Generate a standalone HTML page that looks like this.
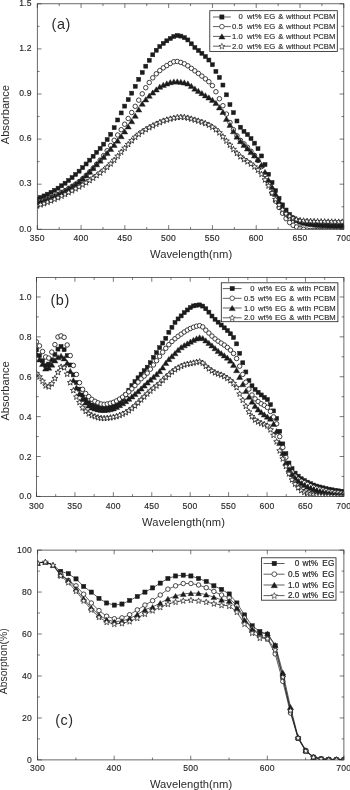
<!DOCTYPE html>
<html lang="en"><head><meta charset="utf-8"><title>UV-vis absorption spectra</title>
<style>html,body{margin:0;padding:0;background:#fff}body{width:350px;height:790px;overflow:hidden}svg{display:block;font-family:'Liberation Sans', Arial, sans-serif;filter:grayscale(1)}</style></head><body>
<svg width="350" height="790" viewBox="0 0 350 790">
<rect width="350" height="790" fill="#fff"/>
<clipPath id="clip1"><rect x="37.3" y="3.8" width="306.5" height="225.5"/></clipPath>
<g clip-path="url(#clip1)"><rect x="35" y="196.89" width="4" height="4" fill="#1c1c1c" stroke="#1c1c1c" stroke-width="0.5"/><rect x="38.51" y="195.5" width="4" height="4" fill="#1c1c1c" stroke="#1c1c1c" stroke-width="0.5"/><rect x="42.02" y="193.93" width="4" height="4" fill="#1c1c1c" stroke="#1c1c1c" stroke-width="0.5"/><rect x="45.52" y="192.2" width="4" height="4" fill="#1c1c1c" stroke="#1c1c1c" stroke-width="0.5"/><rect x="49.03" y="190.32" width="4" height="4" fill="#1c1c1c" stroke="#1c1c1c" stroke-width="0.5"/><rect x="52.54" y="188.32" width="4" height="4" fill="#1c1c1c" stroke="#1c1c1c" stroke-width="0.5"/><rect x="56.05" y="186.16" width="4" height="4" fill="#1c1c1c" stroke="#1c1c1c" stroke-width="0.5"/><rect x="59.56" y="183.77" width="4" height="4" fill="#1c1c1c" stroke="#1c1c1c" stroke-width="0.5"/><rect x="63.06" y="181.19" width="4" height="4" fill="#1c1c1c" stroke="#1c1c1c" stroke-width="0.5"/><rect x="66.57" y="178.44" width="4" height="4" fill="#1c1c1c" stroke="#1c1c1c" stroke-width="0.5"/><rect x="70.08" y="175.55" width="4" height="4" fill="#1c1c1c" stroke="#1c1c1c" stroke-width="0.5"/><rect x="73.59" y="172.47" width="4" height="4" fill="#1c1c1c" stroke="#1c1c1c" stroke-width="0.5"/><rect x="77.1" y="169.16" width="4" height="4" fill="#1c1c1c" stroke="#1c1c1c" stroke-width="0.5"/><rect x="80.6" y="165.65" width="4" height="4" fill="#1c1c1c" stroke="#1c1c1c" stroke-width="0.5"/><rect x="84.11" y="161.98" width="4" height="4" fill="#1c1c1c" stroke="#1c1c1c" stroke-width="0.5"/><rect x="87.62" y="158.17" width="4" height="4" fill="#1c1c1c" stroke="#1c1c1c" stroke-width="0.5"/><rect x="91.13" y="154.25" width="4" height="4" fill="#1c1c1c" stroke="#1c1c1c" stroke-width="0.5"/><rect x="94.64" y="150.31" width="4" height="4" fill="#1c1c1c" stroke="#1c1c1c" stroke-width="0.5"/><rect x="98.14" y="146.35" width="4" height="4" fill="#1c1c1c" stroke="#1c1c1c" stroke-width="0.5"/><rect x="101.65" y="142.16" width="4" height="4" fill="#1c1c1c" stroke="#1c1c1c" stroke-width="0.5"/><rect x="105.16" y="137.55" width="4" height="4" fill="#1c1c1c" stroke="#1c1c1c" stroke-width="0.5"/><rect x="108.67" y="132.33" width="4" height="4" fill="#1c1c1c" stroke="#1c1c1c" stroke-width="0.5"/><rect x="112.18" y="125.72" width="4" height="4" fill="#1c1c1c" stroke="#1c1c1c" stroke-width="0.5"/><rect x="115.68" y="117.98" width="4" height="4" fill="#1c1c1c" stroke="#1c1c1c" stroke-width="0.5"/><rect x="119.19" y="110.93" width="4" height="4" fill="#1c1c1c" stroke="#1c1c1c" stroke-width="0.5"/><rect x="122.7" y="104.12" width="4" height="4" fill="#1c1c1c" stroke="#1c1c1c" stroke-width="0.5"/><rect x="126.21" y="97.64" width="4" height="4" fill="#1c1c1c" stroke="#1c1c1c" stroke-width="0.5"/><rect x="129.72" y="91.17" width="4" height="4" fill="#1c1c1c" stroke="#1c1c1c" stroke-width="0.5"/><rect x="133.22" y="84.32" width="4" height="4" fill="#1c1c1c" stroke="#1c1c1c" stroke-width="0.5"/><rect x="136.73" y="77.31" width="4" height="4" fill="#1c1c1c" stroke="#1c1c1c" stroke-width="0.5"/><rect x="140.24" y="70.47" width="4" height="4" fill="#1c1c1c" stroke="#1c1c1c" stroke-width="0.5"/><rect x="143.75" y="64.18" width="4" height="4" fill="#1c1c1c" stroke="#1c1c1c" stroke-width="0.5"/><rect x="147.26" y="58.27" width="4" height="4" fill="#1c1c1c" stroke="#1c1c1c" stroke-width="0.5"/><rect x="150.76" y="52.78" width="4" height="4" fill="#1c1c1c" stroke="#1c1c1c" stroke-width="0.5"/><rect x="154.27" y="48.25" width="4" height="4" fill="#1c1c1c" stroke="#1c1c1c" stroke-width="0.5"/><rect x="157.78" y="44.54" width="4" height="4" fill="#1c1c1c" stroke="#1c1c1c" stroke-width="0.5"/><rect x="161.29" y="41.37" width="4" height="4" fill="#1c1c1c" stroke="#1c1c1c" stroke-width="0.5"/><rect x="164.8" y="38.79" width="4" height="4" fill="#1c1c1c" stroke="#1c1c1c" stroke-width="0.5"/><rect x="168.3" y="36.51" width="4" height="4" fill="#1c1c1c" stroke="#1c1c1c" stroke-width="0.5"/><rect x="171.81" y="34.49" width="4" height="4" fill="#1c1c1c" stroke="#1c1c1c" stroke-width="0.5"/><rect x="175.32" y="33.52" width="4" height="4" fill="#1c1c1c" stroke="#1c1c1c" stroke-width="0.5"/><rect x="178.83" y="34.09" width="4" height="4" fill="#1c1c1c" stroke="#1c1c1c" stroke-width="0.5"/><rect x="182.34" y="35.64" width="4" height="4" fill="#1c1c1c" stroke="#1c1c1c" stroke-width="0.5"/><rect x="185.84" y="37.94" width="4" height="4" fill="#1c1c1c" stroke="#1c1c1c" stroke-width="0.5"/><rect x="189.35" y="41.81" width="4" height="4" fill="#1c1c1c" stroke="#1c1c1c" stroke-width="0.5"/><rect x="192.86" y="45.5" width="4" height="4" fill="#1c1c1c" stroke="#1c1c1c" stroke-width="0.5"/><rect x="196.37" y="48.44" width="4" height="4" fill="#1c1c1c" stroke="#1c1c1c" stroke-width="0.5"/><rect x="199.88" y="51.3" width="4" height="4" fill="#1c1c1c" stroke="#1c1c1c" stroke-width="0.5"/><rect x="203.38" y="54.51" width="4" height="4" fill="#1c1c1c" stroke="#1c1c1c" stroke-width="0.5"/><rect x="206.89" y="58.02" width="4" height="4" fill="#1c1c1c" stroke="#1c1c1c" stroke-width="0.5"/><rect x="210.4" y="62.7" width="4" height="4" fill="#1c1c1c" stroke="#1c1c1c" stroke-width="0.5"/><rect x="213.91" y="69.45" width="4" height="4" fill="#1c1c1c" stroke="#1c1c1c" stroke-width="0.5"/><rect x="217.42" y="75.47" width="4" height="4" fill="#1c1c1c" stroke="#1c1c1c" stroke-width="0.5"/><rect x="220.92" y="83.05" width="4" height="4" fill="#1c1c1c" stroke="#1c1c1c" stroke-width="0.5"/><rect x="224.43" y="92.81" width="4" height="4" fill="#1c1c1c" stroke="#1c1c1c" stroke-width="0.5"/><rect x="227.94" y="102.6" width="4" height="4" fill="#1c1c1c" stroke="#1c1c1c" stroke-width="0.5"/><rect x="231.45" y="110.68" width="4" height="4" fill="#1c1c1c" stroke="#1c1c1c" stroke-width="0.5"/><rect x="234.96" y="118.99" width="4" height="4" fill="#1c1c1c" stroke="#1c1c1c" stroke-width="0.5"/><rect x="238.46" y="125.21" width="4" height="4" fill="#1c1c1c" stroke="#1c1c1c" stroke-width="0.5"/><rect x="241.97" y="129.32" width="4" height="4" fill="#1c1c1c" stroke="#1c1c1c" stroke-width="0.5"/><rect x="245.48" y="132.55" width="4" height="4" fill="#1c1c1c" stroke="#1c1c1c" stroke-width="0.5"/><rect x="248.99" y="136.56" width="4" height="4" fill="#1c1c1c" stroke="#1c1c1c" stroke-width="0.5"/><rect x="252.5" y="141.17" width="4" height="4" fill="#1c1c1c" stroke="#1c1c1c" stroke-width="0.5"/><rect x="256" y="146.71" width="4" height="4" fill="#1c1c1c" stroke="#1c1c1c" stroke-width="0.5"/><rect x="259.51" y="153.95" width="4" height="4" fill="#1c1c1c" stroke="#1c1c1c" stroke-width="0.5"/><rect x="263.02" y="162.55" width="4" height="4" fill="#1c1c1c" stroke="#1c1c1c" stroke-width="0.5"/><rect x="266.53" y="172.24" width="4" height="4" fill="#1c1c1c" stroke="#1c1c1c" stroke-width="0.5"/><rect x="270.04" y="180.49" width="4" height="4" fill="#1c1c1c" stroke="#1c1c1c" stroke-width="0.5"/><rect x="273.54" y="188.69" width="4" height="4" fill="#1c1c1c" stroke="#1c1c1c" stroke-width="0.5"/><rect x="277.05" y="196.37" width="4" height="4" fill="#1c1c1c" stroke="#1c1c1c" stroke-width="0.5"/><rect x="280.56" y="202.85" width="4" height="4" fill="#1c1c1c" stroke="#1c1c1c" stroke-width="0.5"/><rect x="284.07" y="208" width="4" height="4" fill="#1c1c1c" stroke="#1c1c1c" stroke-width="0.5"/><rect x="287.58" y="212.42" width="4" height="4" fill="#1c1c1c" stroke="#1c1c1c" stroke-width="0.5"/><rect x="291.08" y="215.98" width="4" height="4" fill="#1c1c1c" stroke="#1c1c1c" stroke-width="0.5"/><rect x="294.59" y="218.45" width="4" height="4" fill="#1c1c1c" stroke="#1c1c1c" stroke-width="0.5"/><rect x="298.1" y="220.19" width="4" height="4" fill="#1c1c1c" stroke="#1c1c1c" stroke-width="0.5"/><rect x="301.61" y="221.33" width="4" height="4" fill="#1c1c1c" stroke="#1c1c1c" stroke-width="0.5"/><rect x="305.12" y="222.16" width="4" height="4" fill="#1c1c1c" stroke="#1c1c1c" stroke-width="0.5"/><rect x="308.62" y="222.67" width="4" height="4" fill="#1c1c1c" stroke="#1c1c1c" stroke-width="0.5"/><rect x="312.13" y="223.06" width="4" height="4" fill="#1c1c1c" stroke="#1c1c1c" stroke-width="0.5"/><rect x="315.64" y="223.38" width="4" height="4" fill="#1c1c1c" stroke="#1c1c1c" stroke-width="0.5"/><rect x="319.15" y="223.64" width="4" height="4" fill="#1c1c1c" stroke="#1c1c1c" stroke-width="0.5"/><rect x="322.66" y="223.85" width="4" height="4" fill="#1c1c1c" stroke="#1c1c1c" stroke-width="0.5"/><rect x="326.16" y="224.03" width="4" height="4" fill="#1c1c1c" stroke="#1c1c1c" stroke-width="0.5"/><rect x="329.67" y="224.19" width="4" height="4" fill="#1c1c1c" stroke="#1c1c1c" stroke-width="0.5"/><rect x="333.18" y="224.33" width="4" height="4" fill="#1c1c1c" stroke="#1c1c1c" stroke-width="0.5"/><rect x="336.69" y="224.45" width="4" height="4" fill="#1c1c1c" stroke="#1c1c1c" stroke-width="0.5"/><rect x="340.2" y="224.52" width="4" height="4" fill="#1c1c1c" stroke="#1c1c1c" stroke-width="0.5"/></g>
<g clip-path="url(#clip1)"><circle cx="37" cy="201.75" r="2.25" fill="#fff" stroke="#1c1c1c" stroke-width="0.85"/><circle cx="40.51" cy="201.11" r="2.25" fill="#fff" stroke="#1c1c1c" stroke-width="0.85"/><circle cx="44.02" cy="200.21" r="2.25" fill="#fff" stroke="#1c1c1c" stroke-width="0.85"/><circle cx="47.52" cy="199.07" r="2.25" fill="#fff" stroke="#1c1c1c" stroke-width="0.85"/><circle cx="51.03" cy="197.72" r="2.25" fill="#fff" stroke="#1c1c1c" stroke-width="0.85"/><circle cx="54.54" cy="196.17" r="2.25" fill="#fff" stroke="#1c1c1c" stroke-width="0.85"/><circle cx="58.05" cy="194.46" r="2.25" fill="#fff" stroke="#1c1c1c" stroke-width="0.85"/><circle cx="61.56" cy="192.6" r="2.25" fill="#fff" stroke="#1c1c1c" stroke-width="0.85"/><circle cx="65.06" cy="190.63" r="2.25" fill="#fff" stroke="#1c1c1c" stroke-width="0.85"/><circle cx="68.57" cy="188.55" r="2.25" fill="#fff" stroke="#1c1c1c" stroke-width="0.85"/><circle cx="72.08" cy="186.41" r="2.25" fill="#fff" stroke="#1c1c1c" stroke-width="0.85"/><circle cx="75.59" cy="184.2" r="2.25" fill="#fff" stroke="#1c1c1c" stroke-width="0.85"/><circle cx="79.1" cy="181.66" r="2.25" fill="#fff" stroke="#1c1c1c" stroke-width="0.85"/><circle cx="82.6" cy="178.72" r="2.25" fill="#fff" stroke="#1c1c1c" stroke-width="0.85"/><circle cx="86.11" cy="175.45" r="2.25" fill="#fff" stroke="#1c1c1c" stroke-width="0.85"/><circle cx="89.62" cy="171.9" r="2.25" fill="#fff" stroke="#1c1c1c" stroke-width="0.85"/><circle cx="93.13" cy="168.13" r="2.25" fill="#fff" stroke="#1c1c1c" stroke-width="0.85"/><circle cx="96.64" cy="164.22" r="2.25" fill="#fff" stroke="#1c1c1c" stroke-width="0.85"/><circle cx="100.14" cy="160.14" r="2.25" fill="#fff" stroke="#1c1c1c" stroke-width="0.85"/><circle cx="103.65" cy="155.62" r="2.25" fill="#fff" stroke="#1c1c1c" stroke-width="0.85"/><circle cx="107.16" cy="150.72" r="2.25" fill="#fff" stroke="#1c1c1c" stroke-width="0.85"/><circle cx="110.67" cy="145.57" r="2.25" fill="#fff" stroke="#1c1c1c" stroke-width="0.85"/><circle cx="114.18" cy="140.29" r="2.25" fill="#fff" stroke="#1c1c1c" stroke-width="0.85"/><circle cx="117.68" cy="135.01" r="2.25" fill="#fff" stroke="#1c1c1c" stroke-width="0.85"/><circle cx="121.19" cy="129.7" r="2.25" fill="#fff" stroke="#1c1c1c" stroke-width="0.85"/><circle cx="124.7" cy="124.21" r="2.25" fill="#fff" stroke="#1c1c1c" stroke-width="0.85"/><circle cx="128.21" cy="118.51" r="2.25" fill="#fff" stroke="#1c1c1c" stroke-width="0.85"/><circle cx="131.72" cy="112.5" r="2.25" fill="#fff" stroke="#1c1c1c" stroke-width="0.85"/><circle cx="135.22" cy="106.31" r="2.25" fill="#fff" stroke="#1c1c1c" stroke-width="0.85"/><circle cx="138.73" cy="100.14" r="2.25" fill="#fff" stroke="#1c1c1c" stroke-width="0.85"/><circle cx="142.24" cy="93.82" r="2.25" fill="#fff" stroke="#1c1c1c" stroke-width="0.85"/><circle cx="145.75" cy="87.73" r="2.25" fill="#fff" stroke="#1c1c1c" stroke-width="0.85"/><circle cx="149.26" cy="82.53" r="2.25" fill="#fff" stroke="#1c1c1c" stroke-width="0.85"/><circle cx="152.76" cy="77.82" r="2.25" fill="#fff" stroke="#1c1c1c" stroke-width="0.85"/><circle cx="156.27" cy="73.8" r="2.25" fill="#fff" stroke="#1c1c1c" stroke-width="0.85"/><circle cx="159.78" cy="70.58" r="2.25" fill="#fff" stroke="#1c1c1c" stroke-width="0.85"/><circle cx="163.29" cy="67.84" r="2.25" fill="#fff" stroke="#1c1c1c" stroke-width="0.85"/><circle cx="166.8" cy="65.57" r="2.25" fill="#fff" stroke="#1c1c1c" stroke-width="0.85"/><circle cx="170.3" cy="63.47" r="2.25" fill="#fff" stroke="#1c1c1c" stroke-width="0.85"/><circle cx="173.81" cy="61.75" r="2.25" fill="#fff" stroke="#1c1c1c" stroke-width="0.85"/><circle cx="177.32" cy="61.46" r="2.25" fill="#fff" stroke="#1c1c1c" stroke-width="0.85"/><circle cx="180.83" cy="62.41" r="2.25" fill="#fff" stroke="#1c1c1c" stroke-width="0.85"/><circle cx="184.34" cy="63.8" r="2.25" fill="#fff" stroke="#1c1c1c" stroke-width="0.85"/><circle cx="187.84" cy="65.8" r="2.25" fill="#fff" stroke="#1c1c1c" stroke-width="0.85"/><circle cx="191.35" cy="68.34" r="2.25" fill="#fff" stroke="#1c1c1c" stroke-width="0.85"/><circle cx="194.86" cy="70.86" r="2.25" fill="#fff" stroke="#1c1c1c" stroke-width="0.85"/><circle cx="198.37" cy="73.41" r="2.25" fill="#fff" stroke="#1c1c1c" stroke-width="0.85"/><circle cx="201.88" cy="76.1" r="2.25" fill="#fff" stroke="#1c1c1c" stroke-width="0.85"/><circle cx="205.38" cy="78.86" r="2.25" fill="#fff" stroke="#1c1c1c" stroke-width="0.85"/><circle cx="208.89" cy="81.73" r="2.25" fill="#fff" stroke="#1c1c1c" stroke-width="0.85"/><circle cx="212.4" cy="85.65" r="2.25" fill="#fff" stroke="#1c1c1c" stroke-width="0.85"/><circle cx="215.91" cy="91.75" r="2.25" fill="#fff" stroke="#1c1c1c" stroke-width="0.85"/><circle cx="219.42" cy="98.76" r="2.25" fill="#fff" stroke="#1c1c1c" stroke-width="0.85"/><circle cx="222.92" cy="105.7" r="2.25" fill="#fff" stroke="#1c1c1c" stroke-width="0.85"/><circle cx="226.43" cy="114.09" r="2.25" fill="#fff" stroke="#1c1c1c" stroke-width="0.85"/><circle cx="229.94" cy="122.48" r="2.25" fill="#fff" stroke="#1c1c1c" stroke-width="0.85"/><circle cx="233.45" cy="129.71" r="2.25" fill="#fff" stroke="#1c1c1c" stroke-width="0.85"/><circle cx="236.96" cy="135.81" r="2.25" fill="#fff" stroke="#1c1c1c" stroke-width="0.85"/><circle cx="240.46" cy="140.4" r="2.25" fill="#fff" stroke="#1c1c1c" stroke-width="0.85"/><circle cx="243.97" cy="143.86" r="2.25" fill="#fff" stroke="#1c1c1c" stroke-width="0.85"/><circle cx="247.48" cy="147.34" r="2.25" fill="#fff" stroke="#1c1c1c" stroke-width="0.85"/><circle cx="250.99" cy="151.24" r="2.25" fill="#fff" stroke="#1c1c1c" stroke-width="0.85"/><circle cx="254.5" cy="155.47" r="2.25" fill="#fff" stroke="#1c1c1c" stroke-width="0.85"/><circle cx="258" cy="160.5" r="2.25" fill="#fff" stroke="#1c1c1c" stroke-width="0.85"/><circle cx="261.51" cy="166.65" r="2.25" fill="#fff" stroke="#1c1c1c" stroke-width="0.85"/><circle cx="265.02" cy="174.47" r="2.25" fill="#fff" stroke="#1c1c1c" stroke-width="0.85"/><circle cx="268.53" cy="183.51" r="2.25" fill="#fff" stroke="#1c1c1c" stroke-width="0.85"/><circle cx="272.04" cy="193.12" r="2.25" fill="#fff" stroke="#1c1c1c" stroke-width="0.85"/><circle cx="275.54" cy="201.1" r="2.25" fill="#fff" stroke="#1c1c1c" stroke-width="0.85"/><circle cx="279.05" cy="207.45" r="2.25" fill="#fff" stroke="#1c1c1c" stroke-width="0.85"/><circle cx="282.56" cy="213.24" r="2.25" fill="#fff" stroke="#1c1c1c" stroke-width="0.85"/><circle cx="286.07" cy="218.64" r="2.25" fill="#fff" stroke="#1c1c1c" stroke-width="0.85"/><circle cx="289.58" cy="222.5" r="2.25" fill="#fff" stroke="#1c1c1c" stroke-width="0.85"/><circle cx="293.08" cy="225.29" r="2.25" fill="#fff" stroke="#1c1c1c" stroke-width="0.85"/><circle cx="296.59" cy="227" r="2.25" fill="#fff" stroke="#1c1c1c" stroke-width="0.85"/><circle cx="300.1" cy="228.24" r="2.25" fill="#fff" stroke="#1c1c1c" stroke-width="0.85"/><circle cx="303.61" cy="229.3" r="2.25" fill="#fff" stroke="#1c1c1c" stroke-width="0.85"/><circle cx="307.12" cy="230.14" r="2.25" fill="#fff" stroke="#1c1c1c" stroke-width="0.85"/><circle cx="310.62" cy="230.34" r="2.25" fill="#fff" stroke="#1c1c1c" stroke-width="0.85"/><circle cx="314.13" cy="230.4" r="2.25" fill="#fff" stroke="#1c1c1c" stroke-width="0.85"/><circle cx="317.64" cy="230.45" r="2.25" fill="#fff" stroke="#1c1c1c" stroke-width="0.85"/><circle cx="321.15" cy="230.49" r="2.25" fill="#fff" stroke="#1c1c1c" stroke-width="0.85"/><circle cx="324.66" cy="230.53" r="2.25" fill="#fff" stroke="#1c1c1c" stroke-width="0.85"/><circle cx="328.16" cy="230.56" r="2.25" fill="#fff" stroke="#1c1c1c" stroke-width="0.85"/><circle cx="331.67" cy="230.58" r="2.25" fill="#fff" stroke="#1c1c1c" stroke-width="0.85"/><circle cx="335.18" cy="230.59" r="2.25" fill="#fff" stroke="#1c1c1c" stroke-width="0.85"/><circle cx="338.69" cy="230.6" r="2.25" fill="#fff" stroke="#1c1c1c" stroke-width="0.85"/><circle cx="342.2" cy="230.6" r="2.25" fill="#fff" stroke="#1c1c1c" stroke-width="0.85"/></g>
<g clip-path="url(#clip1)"><polygon points="37,199.43 33.92,204.67 40.08,204.67" fill="#1c1c1c" stroke="#1c1c1c" stroke-width="0.4"/><polygon points="40.51,198.69 37.43,203.93 43.59,203.93" fill="#1c1c1c" stroke="#1c1c1c" stroke-width="0.4"/><polygon points="44.02,197.71 40.94,202.95 47.09,202.95" fill="#1c1c1c" stroke="#1c1c1c" stroke-width="0.4"/><polygon points="47.52,196.5 44.45,201.75 50.6,201.75" fill="#1c1c1c" stroke="#1c1c1c" stroke-width="0.4"/><polygon points="51.03,195.1 47.95,200.35 54.11,200.35" fill="#1c1c1c" stroke="#1c1c1c" stroke-width="0.4"/><polygon points="54.54,193.52 51.46,198.76 57.62,198.76" fill="#1c1c1c" stroke="#1c1c1c" stroke-width="0.4"/><polygon points="58.05,191.78 54.97,197.02 61.13,197.02" fill="#1c1c1c" stroke="#1c1c1c" stroke-width="0.4"/><polygon points="61.56,189.9 58.48,195.14 64.63,195.14" fill="#1c1c1c" stroke="#1c1c1c" stroke-width="0.4"/><polygon points="65.06,187.9 61.99,193.15 68.14,193.15" fill="#1c1c1c" stroke="#1c1c1c" stroke-width="0.4"/><polygon points="68.57,185.81 65.49,191.06 71.65,191.06" fill="#1c1c1c" stroke="#1c1c1c" stroke-width="0.4"/><polygon points="72.08,183.65 69,188.89 75.16,188.89" fill="#1c1c1c" stroke="#1c1c1c" stroke-width="0.4"/><polygon points="75.59,181.42 72.51,186.66 78.67,186.66" fill="#1c1c1c" stroke="#1c1c1c" stroke-width="0.4"/><polygon points="79.1,178.84 76.02,184.08 82.17,184.08" fill="#1c1c1c" stroke="#1c1c1c" stroke-width="0.4"/><polygon points="82.6,175.85 79.53,181.1 85.68,181.1" fill="#1c1c1c" stroke="#1c1c1c" stroke-width="0.4"/><polygon points="86.11,172.55 83.03,177.8 89.19,177.8" fill="#1c1c1c" stroke="#1c1c1c" stroke-width="0.4"/><polygon points="89.62,169.02 86.54,174.27 92.7,174.27" fill="#1c1c1c" stroke="#1c1c1c" stroke-width="0.4"/><polygon points="93.13,165.34 90.05,170.59 96.21,170.59" fill="#1c1c1c" stroke="#1c1c1c" stroke-width="0.4"/><polygon points="96.64,161.61 93.56,166.85 99.71,166.85" fill="#1c1c1c" stroke="#1c1c1c" stroke-width="0.4"/><polygon points="100.14,157.89 97.07,163.14 103.22,163.14" fill="#1c1c1c" stroke="#1c1c1c" stroke-width="0.4"/><polygon points="103.65,154.18 100.57,159.42 106.73,159.42" fill="#1c1c1c" stroke="#1c1c1c" stroke-width="0.4"/><polygon points="107.16,150.32 104.08,155.57 110.24,155.57" fill="#1c1c1c" stroke="#1c1c1c" stroke-width="0.4"/><polygon points="110.67,146.33 107.59,151.57 113.75,151.57" fill="#1c1c1c" stroke="#1c1c1c" stroke-width="0.4"/><polygon points="114.18,142.2 111.1,147.45 117.25,147.45" fill="#1c1c1c" stroke="#1c1c1c" stroke-width="0.4"/><polygon points="117.68,137.95 114.61,143.2 120.76,143.2" fill="#1c1c1c" stroke="#1c1c1c" stroke-width="0.4"/><polygon points="121.19,133.5 118.11,138.75 124.27,138.75" fill="#1c1c1c" stroke="#1c1c1c" stroke-width="0.4"/><polygon points="124.7,128.78 121.62,134.03 127.78,134.03" fill="#1c1c1c" stroke="#1c1c1c" stroke-width="0.4"/><polygon points="128.21,123.81 125.13,129.05 131.29,129.05" fill="#1c1c1c" stroke="#1c1c1c" stroke-width="0.4"/><polygon points="131.72,118.58 128.64,123.83 134.79,123.83" fill="#1c1c1c" stroke="#1c1c1c" stroke-width="0.4"/><polygon points="135.22,113.08 132.15,118.32 138.3,118.32" fill="#1c1c1c" stroke="#1c1c1c" stroke-width="0.4"/><polygon points="138.73,106.83 135.65,112.08 141.81,112.08" fill="#1c1c1c" stroke="#1c1c1c" stroke-width="0.4"/><polygon points="142.24,101.06 139.16,106.3 145.32,106.3" fill="#1c1c1c" stroke="#1c1c1c" stroke-width="0.4"/><polygon points="145.75,96.73 142.67,101.97 148.83,101.97" fill="#1c1c1c" stroke="#1c1c1c" stroke-width="0.4"/><polygon points="149.26,93.07 146.18,98.31 152.33,98.31" fill="#1c1c1c" stroke="#1c1c1c" stroke-width="0.4"/><polygon points="152.76,89.86 149.69,95.1 155.84,95.1" fill="#1c1c1c" stroke="#1c1c1c" stroke-width="0.4"/><polygon points="156.27,86.79 153.19,92.03 159.35,92.03" fill="#1c1c1c" stroke="#1c1c1c" stroke-width="0.4"/><polygon points="159.78,84.05 156.7,89.29 162.86,89.29" fill="#1c1c1c" stroke="#1c1c1c" stroke-width="0.4"/><polygon points="163.29,82.16 160.21,87.41 166.37,87.41" fill="#1c1c1c" stroke="#1c1c1c" stroke-width="0.4"/><polygon points="166.8,80.77 163.72,86.02 169.87,86.02" fill="#1c1c1c" stroke="#1c1c1c" stroke-width="0.4"/><polygon points="170.3,79.61 167.23,84.85 173.38,84.85" fill="#1c1c1c" stroke="#1c1c1c" stroke-width="0.4"/><polygon points="173.81,78.88 170.73,84.12 176.89,84.12" fill="#1c1c1c" stroke="#1c1c1c" stroke-width="0.4"/><polygon points="177.32,78.77 174.24,84.01 180.4,84.01" fill="#1c1c1c" stroke="#1c1c1c" stroke-width="0.4"/><polygon points="180.83,79.14 177.75,84.38 183.91,84.38" fill="#1c1c1c" stroke="#1c1c1c" stroke-width="0.4"/><polygon points="184.34,79.83 181.26,85.07 187.41,85.07" fill="#1c1c1c" stroke="#1c1c1c" stroke-width="0.4"/><polygon points="187.84,80.84 184.77,86.09 190.92,86.09" fill="#1c1c1c" stroke="#1c1c1c" stroke-width="0.4"/><polygon points="191.35,83.2 188.27,88.45 194.43,88.45" fill="#1c1c1c" stroke="#1c1c1c" stroke-width="0.4"/><polygon points="194.86,85.92 191.78,91.17 197.94,91.17" fill="#1c1c1c" stroke="#1c1c1c" stroke-width="0.4"/><polygon points="198.37,88.18 195.29,93.42 201.45,93.42" fill="#1c1c1c" stroke="#1c1c1c" stroke-width="0.4"/><polygon points="201.88,90.38 198.8,95.63 204.95,95.63" fill="#1c1c1c" stroke="#1c1c1c" stroke-width="0.4"/><polygon points="205.38,92.63 202.31,97.88 208.46,97.88" fill="#1c1c1c" stroke="#1c1c1c" stroke-width="0.4"/><polygon points="208.89,94.84 205.81,100.08 211.97,100.08" fill="#1c1c1c" stroke="#1c1c1c" stroke-width="0.4"/><polygon points="212.4,97.17 209.32,102.41 215.48,102.41" fill="#1c1c1c" stroke="#1c1c1c" stroke-width="0.4"/><polygon points="215.91,100.34 212.83,105.59 218.99,105.59" fill="#1c1c1c" stroke="#1c1c1c" stroke-width="0.4"/><polygon points="219.42,104.67 216.34,109.91 222.49,109.91" fill="#1c1c1c" stroke="#1c1c1c" stroke-width="0.4"/><polygon points="222.92,109.26 219.85,114.5 226,114.5" fill="#1c1c1c" stroke="#1c1c1c" stroke-width="0.4"/><polygon points="226.43,116.21 223.35,121.45 229.51,121.45" fill="#1c1c1c" stroke="#1c1c1c" stroke-width="0.4"/><polygon points="229.94,122.16 226.86,127.41 233.02,127.41" fill="#1c1c1c" stroke="#1c1c1c" stroke-width="0.4"/><polygon points="233.45,128.61 230.37,133.86 236.53,133.86" fill="#1c1c1c" stroke="#1c1c1c" stroke-width="0.4"/><polygon points="236.96,133.89 233.88,139.14 240.03,139.14" fill="#1c1c1c" stroke="#1c1c1c" stroke-width="0.4"/><polygon points="240.46,138.39 237.39,143.64 243.54,143.64" fill="#1c1c1c" stroke="#1c1c1c" stroke-width="0.4"/><polygon points="243.97,142.14 240.89,147.38 247.05,147.38" fill="#1c1c1c" stroke="#1c1c1c" stroke-width="0.4"/><polygon points="247.48,145.75 244.4,150.99 250.56,150.99" fill="#1c1c1c" stroke="#1c1c1c" stroke-width="0.4"/><polygon points="250.99,149.3 247.91,154.54 254.07,154.54" fill="#1c1c1c" stroke="#1c1c1c" stroke-width="0.4"/><polygon points="254.5,152.82 251.42,158.06 257.57,158.06" fill="#1c1c1c" stroke="#1c1c1c" stroke-width="0.4"/><polygon points="258,156.77 254.93,162.01 261.08,162.01" fill="#1c1c1c" stroke="#1c1c1c" stroke-width="0.4"/><polygon points="261.51,162.3 258.43,167.55 264.59,167.55" fill="#1c1c1c" stroke="#1c1c1c" stroke-width="0.4"/><polygon points="265.02,169.33 261.94,174.57 268.1,174.57" fill="#1c1c1c" stroke="#1c1c1c" stroke-width="0.4"/><polygon points="268.53,177.33 265.45,182.58 271.61,182.58" fill="#1c1c1c" stroke="#1c1c1c" stroke-width="0.4"/><polygon points="272.04,184.29 268.96,189.54 275.11,189.54" fill="#1c1c1c" stroke="#1c1c1c" stroke-width="0.4"/><polygon points="275.54,191.33 272.47,196.57 278.62,196.57" fill="#1c1c1c" stroke="#1c1c1c" stroke-width="0.4"/><polygon points="279.05,198.74 275.97,203.98 282.13,203.98" fill="#1c1c1c" stroke="#1c1c1c" stroke-width="0.4"/><polygon points="282.56,204.57 279.48,209.81 285.64,209.81" fill="#1c1c1c" stroke="#1c1c1c" stroke-width="0.4"/><polygon points="286.07,209.13 282.99,214.38 289.15,214.38" fill="#1c1c1c" stroke="#1c1c1c" stroke-width="0.4"/><polygon points="289.58,212.71 286.5,217.95 292.65,217.95" fill="#1c1c1c" stroke="#1c1c1c" stroke-width="0.4"/><polygon points="293.08,215.36 290.01,220.6 296.16,220.6" fill="#1c1c1c" stroke="#1c1c1c" stroke-width="0.4"/><polygon points="296.59,217.15 293.51,222.39 299.67,222.39" fill="#1c1c1c" stroke="#1c1c1c" stroke-width="0.4"/><polygon points="300.1,218.36 297.02,223.61 303.18,223.61" fill="#1c1c1c" stroke="#1c1c1c" stroke-width="0.4"/><polygon points="303.61,219.14 300.53,224.38 306.69,224.38" fill="#1c1c1c" stroke="#1c1c1c" stroke-width="0.4"/><polygon points="307.12,219.69 304.04,224.94 310.19,224.94" fill="#1c1c1c" stroke="#1c1c1c" stroke-width="0.4"/><polygon points="310.62,220 307.55,225.24 313.7,225.24" fill="#1c1c1c" stroke="#1c1c1c" stroke-width="0.4"/><polygon points="314.13,220.25 311.05,225.5 317.21,225.5" fill="#1c1c1c" stroke="#1c1c1c" stroke-width="0.4"/><polygon points="317.64,220.49 314.56,225.73 320.72,225.73" fill="#1c1c1c" stroke="#1c1c1c" stroke-width="0.4"/><polygon points="321.15,220.69 318.07,225.94 324.23,225.94" fill="#1c1c1c" stroke="#1c1c1c" stroke-width="0.4"/><polygon points="324.66,220.88 321.58,226.12 327.73,226.12" fill="#1c1c1c" stroke="#1c1c1c" stroke-width="0.4"/><polygon points="328.16,221.03 325.09,226.28 331.24,226.28" fill="#1c1c1c" stroke="#1c1c1c" stroke-width="0.4"/><polygon points="331.67,221.16 328.59,226.41 334.75,226.41" fill="#1c1c1c" stroke="#1c1c1c" stroke-width="0.4"/><polygon points="335.18,221.26 332.1,226.51 338.26,226.51" fill="#1c1c1c" stroke="#1c1c1c" stroke-width="0.4"/><polygon points="338.69,221.33 335.61,226.57 341.77,226.57" fill="#1c1c1c" stroke="#1c1c1c" stroke-width="0.4"/><polygon points="342.2,221.36 339.12,226.61 345.27,226.61" fill="#1c1c1c" stroke="#1c1c1c" stroke-width="0.4"/></g>
<g clip-path="url(#clip1)"><polygon points="37,202.8 37.77,204.85 39.95,204.95 38.24,206.31 38.82,208.41 37,207.21 35.18,208.41 35.76,206.31 34.05,204.95 36.23,204.85" fill="#fff" stroke="#1c1c1c" stroke-width="0.8" stroke-linejoin="miter"/><polygon points="40.51,201.67 41.27,203.72 43.46,203.81 41.75,205.17 42.33,207.28 40.51,206.07 38.69,207.28 39.27,205.17 37.56,203.81 39.74,203.72" fill="#fff" stroke="#1c1c1c" stroke-width="0.8" stroke-linejoin="miter"/><polygon points="44.02,200.43 44.78,202.48 46.96,202.57 45.25,203.93 45.84,206.04 44.02,204.83 42.19,206.04 42.78,203.93 41.07,202.57 43.25,202.48" fill="#fff" stroke="#1c1c1c" stroke-width="0.8" stroke-linejoin="miter"/><polygon points="47.52,199.1 48.29,201.15 50.47,201.24 48.76,202.6 49.35,204.71 47.52,203.5 45.7,204.71 46.29,202.6 44.58,201.24 46.76,201.15" fill="#fff" stroke="#1c1c1c" stroke-width="0.8" stroke-linejoin="miter"/><polygon points="51.03,197.68 51.8,199.72 53.98,199.82 52.27,201.18 52.85,203.28 51.03,202.08 49.21,203.28 49.79,201.18 48.08,199.82 50.27,199.72" fill="#fff" stroke="#1c1c1c" stroke-width="0.8" stroke-linejoin="miter"/><polygon points="54.54,196.17 55.31,198.21 57.49,198.31 55.78,199.67 56.36,201.78 54.54,200.57 52.72,201.78 53.3,199.67 51.59,198.31 53.77,198.21" fill="#fff" stroke="#1c1c1c" stroke-width="0.8" stroke-linejoin="miter"/><polygon points="58.05,194.58 58.81,196.63 61,196.73 59.29,198.09 59.87,200.19 58.05,198.99 56.23,200.19 56.81,198.09 55.1,196.73 57.28,196.63" fill="#fff" stroke="#1c1c1c" stroke-width="0.8" stroke-linejoin="miter"/><polygon points="61.56,192.93 62.32,194.97 64.5,195.07 62.79,196.43 63.38,198.53 61.56,197.33 59.73,198.53 60.32,196.43 58.61,195.07 60.79,194.97" fill="#fff" stroke="#1c1c1c" stroke-width="0.8" stroke-linejoin="miter"/><polygon points="65.06,191.21 65.83,193.25 68.01,193.35 66.3,194.71 66.89,196.81 65.06,195.61 63.24,196.81 63.83,194.71 62.12,193.35 64.3,193.25" fill="#fff" stroke="#1c1c1c" stroke-width="0.8" stroke-linejoin="miter"/><polygon points="68.57,189.42 69.34,191.47 71.52,191.57 69.81,192.93 70.39,195.03 68.57,193.83 66.75,195.03 67.33,192.93 65.62,191.57 67.81,191.47" fill="#fff" stroke="#1c1c1c" stroke-width="0.8" stroke-linejoin="miter"/><polygon points="72.08,187.59 72.85,189.64 75.03,189.73 73.32,191.09 73.9,193.2 72.08,191.99 70.26,193.2 70.84,191.09 69.13,189.73 71.31,189.64" fill="#fff" stroke="#1c1c1c" stroke-width="0.8" stroke-linejoin="miter"/><polygon points="75.59,185.71 76.35,187.76 78.54,187.85 76.83,189.21 77.41,191.32 75.59,190.11 73.77,191.32 74.35,189.21 72.64,187.85 74.82,187.76" fill="#fff" stroke="#1c1c1c" stroke-width="0.8" stroke-linejoin="miter"/><polygon points="79.1,183.79 79.86,185.83 82.04,185.93 80.33,187.29 80.92,189.39 79.1,188.19 77.27,189.39 77.86,187.29 76.15,185.93 78.33,185.83" fill="#fff" stroke="#1c1c1c" stroke-width="0.8" stroke-linejoin="miter"/><polygon points="82.6,181.76 83.37,183.81 85.55,183.9 83.84,185.26 84.43,187.37 82.6,186.16 80.78,187.37 81.37,185.26 79.66,183.9 81.84,183.81" fill="#fff" stroke="#1c1c1c" stroke-width="0.8" stroke-linejoin="miter"/><polygon points="86.11,179.62 86.88,181.66 89.06,181.76 87.35,183.12 87.93,185.22 86.11,184.02 84.29,185.22 84.87,183.12 83.16,181.76 85.35,181.66" fill="#fff" stroke="#1c1c1c" stroke-width="0.8" stroke-linejoin="miter"/><polygon points="89.62,177.35 90.39,179.4 92.57,179.49 90.86,180.85 91.44,182.96 89.62,181.75 87.8,182.96 88.38,180.85 86.67,179.49 88.85,179.4" fill="#fff" stroke="#1c1c1c" stroke-width="0.8" stroke-linejoin="miter"/><polygon points="93.13,174.96 93.89,177.01 96.08,177.1 94.37,178.46 94.95,180.57 93.13,179.36 91.31,180.57 91.89,178.46 90.18,177.1 92.36,177.01" fill="#fff" stroke="#1c1c1c" stroke-width="0.8" stroke-linejoin="miter"/><polygon points="96.64,172.45 97.4,174.5 99.58,174.59 97.87,175.95 98.46,178.06 96.64,176.85 94.81,178.06 95.4,175.95 93.69,174.59 95.87,174.5" fill="#fff" stroke="#1c1c1c" stroke-width="0.8" stroke-linejoin="miter"/><polygon points="100.14,169.81 100.91,171.86 103.09,171.96 101.38,173.32 101.97,175.42 100.14,174.22 98.32,175.42 98.91,173.32 97.2,171.96 99.38,171.86" fill="#fff" stroke="#1c1c1c" stroke-width="0.8" stroke-linejoin="miter"/><polygon points="103.65,167.05 104.42,169.1 106.6,169.19 104.89,170.55 105.47,172.66 103.65,171.45 101.83,172.66 102.41,170.55 100.7,169.19 102.89,169.1" fill="#fff" stroke="#1c1c1c" stroke-width="0.8" stroke-linejoin="miter"/><polygon points="107.16,164.08 107.93,166.13 110.11,166.22 108.4,167.58 108.98,169.69 107.16,168.48 105.34,169.69 105.92,167.58 104.21,166.22 106.39,166.13" fill="#fff" stroke="#1c1c1c" stroke-width="0.8" stroke-linejoin="miter"/><polygon points="110.67,160.7 111.43,162.75 113.62,162.84 111.91,164.2 112.49,166.31 110.67,165.1 108.85,166.31 109.43,164.2 107.72,162.84 109.9,162.75" fill="#fff" stroke="#1c1c1c" stroke-width="0.8" stroke-linejoin="miter"/><polygon points="114.18,157.07 114.94,159.12 117.12,159.21 115.41,160.57 116,162.68 114.18,161.47 112.35,162.68 112.94,160.57 111.23,159.21 113.41,159.12" fill="#fff" stroke="#1c1c1c" stroke-width="0.8" stroke-linejoin="miter"/><polygon points="117.68,153.08 118.45,155.13 120.63,155.23 118.92,156.59 119.51,158.69 117.68,157.49 115.86,158.69 116.45,156.59 114.74,155.23 116.92,155.13" fill="#fff" stroke="#1c1c1c" stroke-width="0.8" stroke-linejoin="miter"/><polygon points="121.19,148.97 121.96,151.02 124.14,151.11 122.43,152.47 123.01,154.58 121.19,153.37 119.37,154.58 119.95,152.47 118.24,151.11 120.43,151.02" fill="#fff" stroke="#1c1c1c" stroke-width="0.8" stroke-linejoin="miter"/><polygon points="124.7,145.07 125.47,147.12 127.65,147.21 125.94,148.57 126.52,150.68 124.7,149.47 122.88,150.68 123.46,148.57 121.75,147.21 123.93,147.12" fill="#fff" stroke="#1c1c1c" stroke-width="0.8" stroke-linejoin="miter"/><polygon points="128.21,141.27 128.97,143.31 131.16,143.41 129.45,144.77 130.03,146.88 128.21,145.67 126.39,146.88 126.97,144.77 125.26,143.41 127.44,143.31" fill="#fff" stroke="#1c1c1c" stroke-width="0.8" stroke-linejoin="miter"/><polygon points="131.72,137.52 132.48,139.57 134.66,139.66 132.95,141.02 133.54,143.13 131.72,141.92 129.89,143.13 130.48,141.02 128.77,139.66 130.95,139.57" fill="#fff" stroke="#1c1c1c" stroke-width="0.8" stroke-linejoin="miter"/><polygon points="135.22,134.07 135.99,136.11 138.17,136.21 136.46,137.57 137.05,139.68 135.22,138.47 133.4,139.68 133.99,137.57 132.28,136.21 134.46,136.11" fill="#fff" stroke="#1c1c1c" stroke-width="0.8" stroke-linejoin="miter"/><polygon points="138.73,131.13 139.5,133.18 141.68,133.27 139.97,134.63 140.55,136.74 138.73,135.53 136.91,136.74 137.49,134.63 135.78,133.27 137.97,133.18" fill="#fff" stroke="#1c1c1c" stroke-width="0.8" stroke-linejoin="miter"/><polygon points="142.24,128.66 143.01,130.71 145.19,130.81 143.48,132.17 144.06,134.27 142.24,133.07 140.42,134.27 141,132.17 139.29,130.81 141.47,130.71" fill="#fff" stroke="#1c1c1c" stroke-width="0.8" stroke-linejoin="miter"/><polygon points="145.75,126.47 146.51,128.52 148.7,128.61 146.99,129.97 147.57,132.08 145.75,130.87 143.93,132.08 144.51,129.97 142.8,128.61 144.98,128.52" fill="#fff" stroke="#1c1c1c" stroke-width="0.8" stroke-linejoin="miter"/><polygon points="149.26,124.5 150.02,126.55 152.2,126.64 150.49,128 151.08,130.11 149.26,128.9 147.43,130.11 148.02,128 146.31,126.64 148.49,126.55" fill="#fff" stroke="#1c1c1c" stroke-width="0.8" stroke-linejoin="miter"/><polygon points="152.76,122.69 153.53,124.74 155.71,124.84 154,126.2 154.59,128.3 152.76,127.1 150.94,128.3 151.53,126.2 149.82,124.84 152,124.74" fill="#fff" stroke="#1c1c1c" stroke-width="0.8" stroke-linejoin="miter"/><polygon points="156.27,120.96 157.04,123.01 159.22,123.11 157.51,124.47 158.09,126.57 156.27,125.37 154.45,126.57 155.03,124.47 153.32,123.11 155.51,123.01" fill="#fff" stroke="#1c1c1c" stroke-width="0.8" stroke-linejoin="miter"/><polygon points="159.78,119.32 160.55,121.37 162.73,121.46 161.02,122.82 161.6,124.93 159.78,123.72 157.96,124.93 158.54,122.82 156.83,121.46 159.01,121.37" fill="#fff" stroke="#1c1c1c" stroke-width="0.8" stroke-linejoin="miter"/><polygon points="163.29,117.88 164.05,119.93 166.24,120.02 164.53,121.38 165.11,123.49 163.29,122.28 161.47,123.49 162.05,121.38 160.34,120.02 162.52,119.93" fill="#fff" stroke="#1c1c1c" stroke-width="0.8" stroke-linejoin="miter"/><polygon points="166.8,116.75 167.56,118.8 169.74,118.89 168.03,120.25 168.62,122.36 166.8,121.15 164.97,122.36 165.56,120.25 163.85,118.89 166.03,118.8" fill="#fff" stroke="#1c1c1c" stroke-width="0.8" stroke-linejoin="miter"/><polygon points="170.3,115.84 171.07,117.88 173.25,117.98 171.54,119.34 172.13,121.45 170.3,120.24 168.48,121.45 169.07,119.34 167.36,117.98 169.54,117.88" fill="#fff" stroke="#1c1c1c" stroke-width="0.8" stroke-linejoin="miter"/><polygon points="173.81,114.98 174.58,117.03 176.76,117.13 175.05,118.49 175.63,120.59 173.81,119.39 171.99,120.59 172.57,118.49 170.86,117.13 173.05,117.03" fill="#fff" stroke="#1c1c1c" stroke-width="0.8" stroke-linejoin="miter"/><polygon points="177.32,114.32 178.09,116.37 180.27,116.46 178.56,117.83 179.14,119.93 177.32,118.72 175.5,119.93 176.08,117.83 174.37,116.46 176.55,116.37" fill="#fff" stroke="#1c1c1c" stroke-width="0.8" stroke-linejoin="miter"/><polygon points="180.83,113.99 181.59,116.04 183.78,116.13 182.07,117.49 182.65,119.6 180.83,118.39 179.01,119.6 179.59,117.49 177.88,116.13 180.06,116.04" fill="#fff" stroke="#1c1c1c" stroke-width="0.8" stroke-linejoin="miter"/><polygon points="184.34,114.16 185.1,116.21 187.28,116.31 185.57,117.67 186.16,119.77 184.34,118.57 182.51,119.77 183.1,117.67 181.39,116.31 183.57,116.21" fill="#fff" stroke="#1c1c1c" stroke-width="0.8" stroke-linejoin="miter"/><polygon points="187.84,114.86 188.61,116.91 190.79,117 189.08,118.36 189.67,120.47 187.84,119.26 186.02,120.47 186.61,118.36 184.9,117 187.08,116.91" fill="#fff" stroke="#1c1c1c" stroke-width="0.8" stroke-linejoin="miter"/><polygon points="191.35,115.84 192.12,117.88 194.3,117.98 192.59,119.34 193.17,121.44 191.35,120.24 189.53,121.44 190.11,119.34 188.4,117.98 190.59,117.88" fill="#fff" stroke="#1c1c1c" stroke-width="0.8" stroke-linejoin="miter"/><polygon points="194.86,116.83 195.63,118.88 197.81,118.97 196.1,120.34 196.68,122.44 194.86,121.23 193.04,122.44 193.62,120.34 191.91,118.97 194.09,118.88" fill="#fff" stroke="#1c1c1c" stroke-width="0.8" stroke-linejoin="miter"/><polygon points="198.37,117.86 199.13,119.91 201.32,120.01 199.61,121.37 200.19,123.47 198.37,122.27 196.55,123.47 197.13,121.37 195.42,120.01 197.6,119.91" fill="#fff" stroke="#1c1c1c" stroke-width="0.8" stroke-linejoin="miter"/><polygon points="201.88,119.06 202.64,121.1 204.82,121.2 203.11,122.56 203.7,124.66 201.88,123.46 200.05,124.66 200.64,122.56 198.93,121.2 201.11,121.1" fill="#fff" stroke="#1c1c1c" stroke-width="0.8" stroke-linejoin="miter"/><polygon points="205.38,120.35 206.15,122.4 208.33,122.49 206.62,123.85 207.21,125.96 205.38,124.75 203.56,125.96 204.15,123.85 202.44,122.49 204.62,122.4" fill="#fff" stroke="#1c1c1c" stroke-width="0.8" stroke-linejoin="miter"/><polygon points="208.89,121.93 209.66,123.98 211.84,124.07 210.13,125.43 210.71,127.54 208.89,126.33 207.07,127.54 207.65,125.43 205.94,124.07 208.13,123.98" fill="#fff" stroke="#1c1c1c" stroke-width="0.8" stroke-linejoin="miter"/><polygon points="212.4,124.02 213.17,126.07 215.35,126.16 213.64,127.52 214.22,129.63 212.4,128.42 210.58,129.63 211.16,127.52 209.45,126.16 211.63,126.07" fill="#fff" stroke="#1c1c1c" stroke-width="0.8" stroke-linejoin="miter"/><polygon points="215.91,126.54 216.67,128.59 218.86,128.68 217.15,130.04 217.73,132.15 215.91,130.94 214.09,132.15 214.67,130.04 212.96,128.68 215.14,128.59" fill="#fff" stroke="#1c1c1c" stroke-width="0.8" stroke-linejoin="miter"/><polygon points="219.42,129.61 220.18,131.65 222.36,131.75 220.65,133.11 221.24,135.22 219.42,134.01 217.59,135.22 218.18,133.11 216.47,131.75 218.65,131.65" fill="#fff" stroke="#1c1c1c" stroke-width="0.8" stroke-linejoin="miter"/><polygon points="222.92,133.6 223.69,135.64 225.87,135.74 224.16,137.1 224.75,139.2 222.92,138 221.1,139.2 221.69,137.1 219.98,135.74 222.16,135.64" fill="#fff" stroke="#1c1c1c" stroke-width="0.8" stroke-linejoin="miter"/><polygon points="226.43,137.87 227.2,139.92 229.38,140.02 227.67,141.38 228.25,143.48 226.43,142.28 224.61,143.48 225.19,141.38 223.48,140.02 225.67,139.92" fill="#fff" stroke="#1c1c1c" stroke-width="0.8" stroke-linejoin="miter"/><polygon points="229.94,141.98 230.71,144.03 232.89,144.12 231.18,145.48 231.76,147.59 229.94,146.38 228.12,147.59 228.7,145.48 226.99,144.12 229.17,144.03" fill="#fff" stroke="#1c1c1c" stroke-width="0.8" stroke-linejoin="miter"/><polygon points="233.45,146.26 234.21,148.31 236.4,148.41 234.69,149.77 235.27,151.87 233.45,150.67 231.63,151.87 232.21,149.77 230.5,148.41 232.68,148.31" fill="#fff" stroke="#1c1c1c" stroke-width="0.8" stroke-linejoin="miter"/><polygon points="236.96,150.19 237.72,152.24 239.9,152.33 238.19,153.69 238.78,155.8 236.96,154.59 235.13,155.8 235.72,153.69 234.01,152.33 236.19,152.24" fill="#fff" stroke="#1c1c1c" stroke-width="0.8" stroke-linejoin="miter"/><polygon points="240.46,153.59 241.23,155.64 243.41,155.73 241.7,157.09 242.29,159.2 240.46,157.99 238.64,159.2 239.23,157.09 237.52,155.73 239.7,155.64" fill="#fff" stroke="#1c1c1c" stroke-width="0.8" stroke-linejoin="miter"/><polygon points="243.97,156.38 244.74,158.42 246.92,158.52 245.21,159.88 245.79,161.98 243.97,160.78 242.15,161.98 242.73,159.88 241.02,158.52 243.21,158.42" fill="#fff" stroke="#1c1c1c" stroke-width="0.8" stroke-linejoin="miter"/><polygon points="247.48,158.58 248.25,160.63 250.43,160.73 248.72,162.09 249.3,164.19 247.48,162.99 245.66,164.19 246.24,162.09 244.53,160.73 246.71,160.63" fill="#fff" stroke="#1c1c1c" stroke-width="0.8" stroke-linejoin="miter"/><polygon points="250.99,160.81 251.75,162.86 253.94,162.96 252.23,164.32 252.81,166.42 250.99,165.22 249.17,166.42 249.75,164.32 248.04,162.96 250.22,162.86" fill="#fff" stroke="#1c1c1c" stroke-width="0.8" stroke-linejoin="miter"/><polygon points="254.5,163.71 255.26,165.76 257.44,165.85 255.73,167.21 256.32,169.32 254.5,168.11 252.67,169.32 253.26,167.21 251.55,165.85 253.73,165.76" fill="#fff" stroke="#1c1c1c" stroke-width="0.8" stroke-linejoin="miter"/><polygon points="258,166.94 258.77,168.99 260.95,169.08 259.24,170.44 259.83,172.55 258,171.34 256.18,172.55 256.77,170.44 255.06,169.08 257.24,168.99" fill="#fff" stroke="#1c1c1c" stroke-width="0.8" stroke-linejoin="miter"/><polygon points="261.51,171.15 262.28,173.2 264.46,173.29 262.75,174.65 263.33,176.76 261.51,175.55 259.69,176.76 260.27,174.65 258.56,173.29 260.75,173.2" fill="#fff" stroke="#1c1c1c" stroke-width="0.8" stroke-linejoin="miter"/><polygon points="265.02,176.71 265.79,178.76 267.97,178.85 266.26,180.21 266.84,182.32 265.02,181.11 263.2,182.32 263.78,180.21 262.07,178.85 264.25,178.76" fill="#fff" stroke="#1c1c1c" stroke-width="0.8" stroke-linejoin="miter"/><polygon points="268.53,182.81 269.29,184.86 271.48,184.96 269.77,186.32 270.35,188.42 268.53,187.22 266.71,188.42 267.29,186.32 265.58,184.96 267.76,184.86" fill="#fff" stroke="#1c1c1c" stroke-width="0.8" stroke-linejoin="miter"/><polygon points="272.04,189.94 272.8,191.99 274.98,192.08 273.27,193.44 273.86,195.55 272.04,194.34 270.21,195.55 270.8,193.44 269.09,192.08 271.27,191.99" fill="#fff" stroke="#1c1c1c" stroke-width="0.8" stroke-linejoin="miter"/><polygon points="275.54,196.37 276.31,198.41 278.49,198.51 276.78,199.87 277.37,201.98 275.54,200.77 273.72,201.98 274.31,199.87 272.6,198.51 274.78,198.41" fill="#fff" stroke="#1c1c1c" stroke-width="0.8" stroke-linejoin="miter"/><polygon points="279.05,201.86 279.82,203.91 282,204.01 280.29,205.37 280.87,207.47 279.05,206.27 277.23,207.47 277.81,205.37 276.1,204.01 278.29,203.91" fill="#fff" stroke="#1c1c1c" stroke-width="0.8" stroke-linejoin="miter"/><polygon points="282.56,206.7 283.33,208.75 285.51,208.85 283.8,210.21 284.38,212.31 282.56,211.11 280.74,212.31 281.32,210.21 279.61,208.85 281.79,208.75" fill="#fff" stroke="#1c1c1c" stroke-width="0.8" stroke-linejoin="miter"/><polygon points="286.07,210.62 286.83,212.67 289.02,212.76 287.31,214.12 287.89,216.23 286.07,215.02 284.25,216.23 284.83,214.12 283.12,212.76 285.3,212.67" fill="#fff" stroke="#1c1c1c" stroke-width="0.8" stroke-linejoin="miter"/><polygon points="289.58,213.24 290.34,215.29 292.52,215.39 290.81,216.75 291.4,218.85 289.58,217.65 287.75,218.85 288.34,216.75 286.63,215.39 288.81,215.29" fill="#fff" stroke="#1c1c1c" stroke-width="0.8" stroke-linejoin="miter"/><polygon points="293.08,215.13 293.85,217.18 296.03,217.27 294.32,218.63 294.91,220.74 293.08,219.53 291.26,220.74 291.85,218.63 290.14,217.27 292.32,217.18" fill="#fff" stroke="#1c1c1c" stroke-width="0.8" stroke-linejoin="miter"/><polygon points="296.59,216.51 297.36,218.56 299.54,218.65 297.83,220.01 298.41,222.12 296.59,220.91 294.77,222.12 295.35,220.01 293.64,218.65 295.83,218.56" fill="#fff" stroke="#1c1c1c" stroke-width="0.8" stroke-linejoin="miter"/><polygon points="300.1,217.38 300.87,219.43 303.05,219.53 301.34,220.89 301.92,222.99 300.1,221.79 298.28,222.99 298.86,220.89 297.15,219.53 299.33,219.43" fill="#fff" stroke="#1c1c1c" stroke-width="0.8" stroke-linejoin="miter"/><polygon points="303.61,217.79 304.37,219.84 306.56,219.93 304.85,221.29 305.43,223.4 303.61,222.19 301.79,223.4 302.37,221.29 300.66,219.93 302.84,219.84" fill="#fff" stroke="#1c1c1c" stroke-width="0.8" stroke-linejoin="miter"/><polygon points="307.12,218.05 307.88,220.1 310.06,220.19 308.35,221.55 308.94,223.66 307.12,222.45 305.29,223.66 305.88,221.55 304.17,220.19 306.35,220.1" fill="#fff" stroke="#1c1c1c" stroke-width="0.8" stroke-linejoin="miter"/><polygon points="310.62,218.2 311.39,220.25 313.57,220.34 311.86,221.7 312.45,223.81 310.62,222.6 308.8,223.81 309.39,221.7 307.68,220.34 309.86,220.25" fill="#fff" stroke="#1c1c1c" stroke-width="0.8" stroke-linejoin="miter"/><polygon points="314.13,218.33 314.9,220.38 317.08,220.47 315.37,221.83 315.95,223.94 314.13,222.73 312.31,223.94 312.89,221.83 311.18,220.47 313.37,220.38" fill="#fff" stroke="#1c1c1c" stroke-width="0.8" stroke-linejoin="miter"/><polygon points="317.64,218.44 318.41,220.49 320.59,220.59 318.88,221.95 319.46,224.05 317.64,222.85 315.82,224.05 316.4,221.95 314.69,220.59 316.87,220.49" fill="#fff" stroke="#1c1c1c" stroke-width="0.8" stroke-linejoin="miter"/><polygon points="321.15,218.55 321.91,220.6 324.1,220.69 322.39,222.05 322.97,224.16 321.15,222.95 319.33,224.16 319.91,222.05 318.2,220.69 320.38,220.6" fill="#fff" stroke="#1c1c1c" stroke-width="0.8" stroke-linejoin="miter"/><polygon points="324.66,218.64 325.42,220.69 327.6,220.78 325.89,222.14 326.48,224.25 324.66,223.04 322.83,224.25 323.42,222.14 321.71,220.78 323.89,220.69" fill="#fff" stroke="#1c1c1c" stroke-width="0.8" stroke-linejoin="miter"/><polygon points="328.16,218.72 328.93,220.77 331.11,220.86 329.4,222.22 329.99,224.33 328.16,223.12 326.34,224.33 326.93,222.22 325.22,220.86 327.4,220.77" fill="#fff" stroke="#1c1c1c" stroke-width="0.8" stroke-linejoin="miter"/><polygon points="331.67,218.78 332.44,220.83 334.62,220.93 332.91,222.29 333.49,224.39 331.67,223.19 329.85,224.39 330.43,222.29 328.72,220.93 330.91,220.83" fill="#fff" stroke="#1c1c1c" stroke-width="0.8" stroke-linejoin="miter"/><polygon points="335.18,218.83 335.95,220.88 338.13,220.98 336.42,222.34 337,224.44 335.18,223.24 333.36,224.44 333.94,222.34 332.23,220.98 334.41,220.88" fill="#fff" stroke="#1c1c1c" stroke-width="0.8" stroke-linejoin="miter"/><polygon points="338.69,218.87 339.45,220.91 341.64,221.01 339.93,222.37 340.51,224.47 338.69,223.27 336.87,224.47 337.45,222.37 335.74,221.01 337.92,220.91" fill="#fff" stroke="#1c1c1c" stroke-width="0.8" stroke-linejoin="miter"/><polygon points="342.2,218.88 342.96,220.93 345.14,221.03 343.43,222.39 344.02,224.49 342.2,223.29 340.37,224.49 340.96,222.39 339.25,221.03 341.43,220.93" fill="#fff" stroke="#1c1c1c" stroke-width="0.8" stroke-linejoin="miter"/></g>
<rect x="37.3" y="3.8" width="306.5" height="225.5" fill="none" stroke="#303030" stroke-width="0.72"/>
<path d="M59.19 229.3v-2.3M59.19 3.8v2.3M102.98 229.3v-2.3M102.98 3.8v2.3M146.76 229.3v-2.3M146.76 3.8v2.3M190.55 229.3v-2.3M190.55 3.8v2.3M234.34 229.3v-2.3M234.34 3.8v2.3M278.12 229.3v-2.3M278.12 3.8v2.3M321.91 229.3v-2.3M321.91 3.8v2.3M37.3 229.3v-4.2M37.3 3.8v4.2M81.09 229.3v-4.2M81.09 3.8v4.2M124.87 229.3v-4.2M124.87 3.8v4.2M168.66 229.3v-4.2M168.66 3.8v4.2M212.44 229.3v-4.2M212.44 3.8v4.2M256.23 229.3v-4.2M256.23 3.8v4.2M300.01 229.3v-4.2M300.01 3.8v4.2M343.8 229.3v-4.2M343.8 3.8v4.2M37.3 206.75h2.3M343.8 206.75h-2.3M37.3 161.65h2.3M343.8 161.65h-2.3M37.3 116.55h2.3M343.8 116.55h-2.3M37.3 71.45h2.3M343.8 71.45h-2.3M37.3 26.35h2.3M343.8 26.35h-2.3M37.3 229.3h4.2M343.8 229.3h-4.2M37.3 184.2h4.2M343.8 184.2h-4.2M37.3 139.1h4.2M343.8 139.1h-4.2M37.3 94h4.2M343.8 94h-4.2M37.3 48.9h4.2M343.8 48.9h-4.2M37.3 3.8h4.2M343.8 3.8h-4.2" stroke="#303030" stroke-width="0.65" fill="none"/>
<g font-size="8.6" fill="#2a2a2a" letter-spacing="0.2" stroke="#2a2a2a" stroke-width="0.15">
<text x="37.2" y="240.69" text-anchor="middle">350</text>
<text x="80.99" y="240.69" text-anchor="middle">400</text>
<text x="124.77" y="240.69" text-anchor="middle">450</text>
<text x="168.56" y="240.69" text-anchor="middle">500</text>
<text x="212.34" y="240.69" text-anchor="middle">550</text>
<text x="256.13" y="240.69" text-anchor="middle">600</text>
<text x="299.91" y="240.69" text-anchor="middle">650</text>
<text x="343.7" y="240.69" text-anchor="middle">700</text>
<text x="31.7" y="231.59" text-anchor="end">0.0</text>
<text x="31.7" y="186.49" text-anchor="end">0.3</text>
<text x="31.7" y="141.39" text-anchor="end">0.6</text>
<text x="31.7" y="96.29" text-anchor="end">0.9</text>
<text x="31.7" y="51.19" text-anchor="end">1.2</text>
<text x="31.7" y="6.09" text-anchor="end">1.5</text>
</g>
<rect x="209.8" y="10.7" width="127.5" height="40.8" fill="#fff" stroke="#1c1c1c" stroke-width="0.8"/>
<path d="M213 17H230.8" stroke="#1c1c1c" stroke-width="0.7"/>
<rect x="219.8" y="14.9" width="4.2" height="4.2" fill="#1c1c1c" stroke="#1c1c1c" stroke-width="0.5"/>
<g font-size="7.7" fill="#2a2a2a" stroke="#2a2a2a" stroke-width="0.14">
<text x="242.7" y="19.37" text-anchor="end">0</text>
<text x="246.9" y="19.37" text-anchor="start" textLength="14.6" lengthAdjust="spacing">wt%</text>
<text x="264" y="19.37" text-anchor="start" textLength="11.3" lengthAdjust="spacing">EG</text>
<text x="278.2" y="19.37" text-anchor="start">&amp;</text>
<text x="285.9" y="19.37" text-anchor="start" letter-spacing="0.05">without</text>
<text x="313.3" y="19.37" text-anchor="start" textLength="22" lengthAdjust="spacing">PCBM</text>
</g>
<path d="M213 26.6H230.8" stroke="#1c1c1c" stroke-width="0.7"/>
<circle cx="221.9" cy="26.6" r="2.3" fill="#fff" stroke="#1c1c1c" stroke-width="0.7"/>
<g font-size="7.7" fill="#2a2a2a" stroke="#2a2a2a" stroke-width="0.14">
<text x="242.7" y="28.97" text-anchor="end">0.5</text>
<text x="246.9" y="28.97" text-anchor="start" textLength="14.6" lengthAdjust="spacing">wt%</text>
<text x="264" y="28.97" text-anchor="start" textLength="11.3" lengthAdjust="spacing">EG</text>
<text x="278.2" y="28.97" text-anchor="start">&amp;</text>
<text x="285.9" y="28.97" text-anchor="start" letter-spacing="0.05">without</text>
<text x="313.3" y="28.97" text-anchor="start" textLength="22" lengthAdjust="spacing">PCBM</text>
</g>
<path d="M213 36.4H230.8" stroke="#1c1c1c" stroke-width="0.7"/>
<polygon points="221.9,33.78 218.82,39.02 224.98,39.02" fill="#1c1c1c" stroke="#1c1c1c" stroke-width="0.4"/>
<g font-size="7.7" fill="#2a2a2a" stroke="#2a2a2a" stroke-width="0.14">
<text x="242.7" y="38.77" text-anchor="end">1.0</text>
<text x="246.9" y="38.77" text-anchor="start" textLength="14.6" lengthAdjust="spacing">wt%</text>
<text x="264" y="38.77" text-anchor="start" textLength="11.3" lengthAdjust="spacing">EG</text>
<text x="278.2" y="38.77" text-anchor="start">&amp;</text>
<text x="285.9" y="38.77" text-anchor="start" letter-spacing="0.05">without</text>
<text x="313.3" y="38.77" text-anchor="start" textLength="22" lengthAdjust="spacing">PCBM</text>
</g>
<path d="M213 46.2H230.8" stroke="#1c1c1c" stroke-width="0.7"/>
<polygon points="221.9,43.35 222.67,45.4 224.85,45.49 223.14,46.85 223.72,48.96 221.9,47.75 220.08,48.96 220.66,46.85 218.95,45.49 221.13,45.4" fill="#fff" stroke="#1c1c1c" stroke-width="0.6" stroke-linejoin="miter"/>
<g font-size="7.7" fill="#2a2a2a" stroke="#2a2a2a" stroke-width="0.14">
<text x="242.7" y="48.57" text-anchor="end">2.0</text>
<text x="246.9" y="48.57" text-anchor="start" textLength="14.6" lengthAdjust="spacing">wt%</text>
<text x="264" y="48.57" text-anchor="start" textLength="11.3" lengthAdjust="spacing">EG</text>
<text x="278.2" y="48.57" text-anchor="start">&amp;</text>
<text x="285.9" y="48.57" text-anchor="start" letter-spacing="0.05">without</text>
<text x="313.3" y="48.57" text-anchor="start" textLength="22" lengthAdjust="spacing">PCBM</text>
</g>
<text x="51.6" y="29.4" font-size="14.4" letter-spacing="0.5" fill="#2a2a2a">(a)</text>
<text x="150" y="257.8" font-size="11.2" textLength="82.2" fill="#2a2a2a">Wavelength(nm)</text>
<text transform="translate(9.2 114.6) rotate(-90)" font-size="11.1" fill="#2a2a2a" text-anchor="middle">Absorbance</text>
<clipPath id="clip2"><rect x="36.5" y="277.6" width="307.4" height="218.8"/></clipPath>
<g clip-path="url(#clip2)"><rect x="34.4" y="347.82" width="4" height="4" fill="#1c1c1c" stroke="#1c1c1c" stroke-width="0.5"/><rect x="37.48" y="353.63" width="4" height="4" fill="#1c1c1c" stroke="#1c1c1c" stroke-width="0.5"/><rect x="40.56" y="358.75" width="4" height="4" fill="#1c1c1c" stroke="#1c1c1c" stroke-width="0.5"/><rect x="43.64" y="363.48" width="4" height="4" fill="#1c1c1c" stroke="#1c1c1c" stroke-width="0.5"/><rect x="46.72" y="362.09" width="4" height="4" fill="#1c1c1c" stroke="#1c1c1c" stroke-width="0.5"/><rect x="49.8" y="357.82" width="4" height="4" fill="#1c1c1c" stroke="#1c1c1c" stroke-width="0.5"/><rect x="52.88" y="352.45" width="4" height="4" fill="#1c1c1c" stroke="#1c1c1c" stroke-width="0.5"/><rect x="55.96" y="347.12" width="4" height="4" fill="#1c1c1c" stroke="#1c1c1c" stroke-width="0.5"/><rect x="59.04" y="344.46" width="4" height="4" fill="#1c1c1c" stroke="#1c1c1c" stroke-width="0.5"/><rect x="62.12" y="347.68" width="4" height="4" fill="#1c1c1c" stroke="#1c1c1c" stroke-width="0.5"/><rect x="65.2" y="353.64" width="4" height="4" fill="#1c1c1c" stroke="#1c1c1c" stroke-width="0.5"/><rect x="68.28" y="362.97" width="4" height="4" fill="#1c1c1c" stroke="#1c1c1c" stroke-width="0.5"/><rect x="71.36" y="372.86" width="4" height="4" fill="#1c1c1c" stroke="#1c1c1c" stroke-width="0.5"/><rect x="74.44" y="380.56" width="4" height="4" fill="#1c1c1c" stroke="#1c1c1c" stroke-width="0.5"/><rect x="77.52" y="387.14" width="4" height="4" fill="#1c1c1c" stroke="#1c1c1c" stroke-width="0.5"/><rect x="80.6" y="393.01" width="4" height="4" fill="#1c1c1c" stroke="#1c1c1c" stroke-width="0.5"/><rect x="83.68" y="397.39" width="4" height="4" fill="#1c1c1c" stroke="#1c1c1c" stroke-width="0.5"/><rect x="86.76" y="400.78" width="4" height="4" fill="#1c1c1c" stroke="#1c1c1c" stroke-width="0.5"/><rect x="89.84" y="403.01" width="4" height="4" fill="#1c1c1c" stroke="#1c1c1c" stroke-width="0.5"/><rect x="92.92" y="404.13" width="4" height="4" fill="#1c1c1c" stroke="#1c1c1c" stroke-width="0.5"/><rect x="96" y="405.02" width="4" height="4" fill="#1c1c1c" stroke="#1c1c1c" stroke-width="0.5"/><rect x="99.08" y="405.58" width="4" height="4" fill="#1c1c1c" stroke="#1c1c1c" stroke-width="0.5"/><rect x="102.16" y="405.73" width="4" height="4" fill="#1c1c1c" stroke="#1c1c1c" stroke-width="0.5"/><rect x="105.24" y="405.5" width="4" height="4" fill="#1c1c1c" stroke="#1c1c1c" stroke-width="0.5"/><rect x="108.32" y="405.03" width="4" height="4" fill="#1c1c1c" stroke="#1c1c1c" stroke-width="0.5"/><rect x="111.4" y="404.26" width="4" height="4" fill="#1c1c1c" stroke="#1c1c1c" stroke-width="0.5"/><rect x="114.48" y="402.53" width="4" height="4" fill="#1c1c1c" stroke="#1c1c1c" stroke-width="0.5"/><rect x="117.56" y="400.12" width="4" height="4" fill="#1c1c1c" stroke="#1c1c1c" stroke-width="0.5"/><rect x="120.64" y="397.17" width="4" height="4" fill="#1c1c1c" stroke="#1c1c1c" stroke-width="0.5"/><rect x="123.72" y="392.98" width="4" height="4" fill="#1c1c1c" stroke="#1c1c1c" stroke-width="0.5"/><rect x="126.8" y="388.17" width="4" height="4" fill="#1c1c1c" stroke="#1c1c1c" stroke-width="0.5"/><rect x="129.88" y="383.52" width="4" height="4" fill="#1c1c1c" stroke="#1c1c1c" stroke-width="0.5"/><rect x="132.96" y="379.53" width="4" height="4" fill="#1c1c1c" stroke="#1c1c1c" stroke-width="0.5"/><rect x="136.04" y="375.79" width="4" height="4" fill="#1c1c1c" stroke="#1c1c1c" stroke-width="0.5"/><rect x="139.12" y="372.15" width="4" height="4" fill="#1c1c1c" stroke="#1c1c1c" stroke-width="0.5"/><rect x="142.2" y="368.71" width="4" height="4" fill="#1c1c1c" stroke="#1c1c1c" stroke-width="0.5"/><rect x="145.28" y="365.19" width="4" height="4" fill="#1c1c1c" stroke="#1c1c1c" stroke-width="0.5"/><rect x="148.36" y="360.71" width="4" height="4" fill="#1c1c1c" stroke="#1c1c1c" stroke-width="0.5"/><rect x="151.44" y="355.39" width="4" height="4" fill="#1c1c1c" stroke="#1c1c1c" stroke-width="0.5"/><rect x="154.52" y="350.65" width="4" height="4" fill="#1c1c1c" stroke="#1c1c1c" stroke-width="0.5"/><rect x="157.6" y="345.67" width="4" height="4" fill="#1c1c1c" stroke="#1c1c1c" stroke-width="0.5"/><rect x="160.68" y="341.06" width="4" height="4" fill="#1c1c1c" stroke="#1c1c1c" stroke-width="0.5"/><rect x="163.76" y="336.25" width="4" height="4" fill="#1c1c1c" stroke="#1c1c1c" stroke-width="0.5"/><rect x="166.84" y="330.25" width="4" height="4" fill="#1c1c1c" stroke="#1c1c1c" stroke-width="0.5"/><rect x="169.92" y="325.28" width="4" height="4" fill="#1c1c1c" stroke="#1c1c1c" stroke-width="0.5"/><rect x="173" y="320.42" width="4" height="4" fill="#1c1c1c" stroke="#1c1c1c" stroke-width="0.5"/><rect x="176.08" y="316.91" width="4" height="4" fill="#1c1c1c" stroke="#1c1c1c" stroke-width="0.5"/><rect x="179.16" y="313.89" width="4" height="4" fill="#1c1c1c" stroke="#1c1c1c" stroke-width="0.5"/><rect x="182.24" y="310.7" width="4" height="4" fill="#1c1c1c" stroke="#1c1c1c" stroke-width="0.5"/><rect x="185.32" y="307.96" width="4" height="4" fill="#1c1c1c" stroke="#1c1c1c" stroke-width="0.5"/><rect x="188.4" y="305.62" width="4" height="4" fill="#1c1c1c" stroke="#1c1c1c" stroke-width="0.5"/><rect x="191.48" y="303.91" width="4" height="4" fill="#1c1c1c" stroke="#1c1c1c" stroke-width="0.5"/><rect x="194.56" y="303.22" width="4" height="4" fill="#1c1c1c" stroke="#1c1c1c" stroke-width="0.5"/><rect x="197.64" y="302.89" width="4" height="4" fill="#1c1c1c" stroke="#1c1c1c" stroke-width="0.5"/><rect x="200.72" y="304.07" width="4" height="4" fill="#1c1c1c" stroke="#1c1c1c" stroke-width="0.5"/><rect x="203.8" y="306.75" width="4" height="4" fill="#1c1c1c" stroke="#1c1c1c" stroke-width="0.5"/><rect x="206.88" y="310.14" width="4" height="4" fill="#1c1c1c" stroke="#1c1c1c" stroke-width="0.5"/><rect x="209.96" y="314.03" width="4" height="4" fill="#1c1c1c" stroke="#1c1c1c" stroke-width="0.5"/><rect x="213.04" y="317.26" width="4" height="4" fill="#1c1c1c" stroke="#1c1c1c" stroke-width="0.5"/><rect x="216.12" y="320.18" width="4" height="4" fill="#1c1c1c" stroke="#1c1c1c" stroke-width="0.5"/><rect x="219.2" y="323.04" width="4" height="4" fill="#1c1c1c" stroke="#1c1c1c" stroke-width="0.5"/><rect x="222.28" y="325.82" width="4" height="4" fill="#1c1c1c" stroke="#1c1c1c" stroke-width="0.5"/><rect x="225.36" y="328.58" width="4" height="4" fill="#1c1c1c" stroke="#1c1c1c" stroke-width="0.5"/><rect x="228.44" y="331.76" width="4" height="4" fill="#1c1c1c" stroke="#1c1c1c" stroke-width="0.5"/><rect x="231.52" y="335.52" width="4" height="4" fill="#1c1c1c" stroke="#1c1c1c" stroke-width="0.5"/><rect x="234.6" y="341.85" width="4" height="4" fill="#1c1c1c" stroke="#1c1c1c" stroke-width="0.5"/><rect x="237.68" y="351.3" width="4" height="4" fill="#1c1c1c" stroke="#1c1c1c" stroke-width="0.5"/><rect x="240.76" y="360.75" width="4" height="4" fill="#1c1c1c" stroke="#1c1c1c" stroke-width="0.5"/><rect x="243.84" y="369.95" width="4" height="4" fill="#1c1c1c" stroke="#1c1c1c" stroke-width="0.5"/><rect x="246.92" y="378.59" width="4" height="4" fill="#1c1c1c" stroke="#1c1c1c" stroke-width="0.5"/><rect x="250" y="383.77" width="4" height="4" fill="#1c1c1c" stroke="#1c1c1c" stroke-width="0.5"/><rect x="253.08" y="387.4" width="4" height="4" fill="#1c1c1c" stroke="#1c1c1c" stroke-width="0.5"/><rect x="256.16" y="390.35" width="4" height="4" fill="#1c1c1c" stroke="#1c1c1c" stroke-width="0.5"/><rect x="259.24" y="392.94" width="4" height="4" fill="#1c1c1c" stroke="#1c1c1c" stroke-width="0.5"/><rect x="262.32" y="395.35" width="4" height="4" fill="#1c1c1c" stroke="#1c1c1c" stroke-width="0.5"/><rect x="265.4" y="397.54" width="4" height="4" fill="#1c1c1c" stroke="#1c1c1c" stroke-width="0.5"/><rect x="268.48" y="402.66" width="4" height="4" fill="#1c1c1c" stroke="#1c1c1c" stroke-width="0.5"/><rect x="271.56" y="408.89" width="4" height="4" fill="#1c1c1c" stroke="#1c1c1c" stroke-width="0.5"/><rect x="274.64" y="416.47" width="4" height="4" fill="#1c1c1c" stroke="#1c1c1c" stroke-width="0.5"/><rect x="277.72" y="429.28" width="4" height="4" fill="#1c1c1c" stroke="#1c1c1c" stroke-width="0.5"/><rect x="280.8" y="441.89" width="4" height="4" fill="#1c1c1c" stroke="#1c1c1c" stroke-width="0.5"/><rect x="283.88" y="451.64" width="4" height="4" fill="#1c1c1c" stroke="#1c1c1c" stroke-width="0.5"/><rect x="286.96" y="461.02" width="4" height="4" fill="#1c1c1c" stroke="#1c1c1c" stroke-width="0.5"/><rect x="290.04" y="466.68" width="4" height="4" fill="#1c1c1c" stroke="#1c1c1c" stroke-width="0.5"/><rect x="293.12" y="471.11" width="4" height="4" fill="#1c1c1c" stroke="#1c1c1c" stroke-width="0.5"/><rect x="296.2" y="474.16" width="4" height="4" fill="#1c1c1c" stroke="#1c1c1c" stroke-width="0.5"/><rect x="299.28" y="476.76" width="4" height="4" fill="#1c1c1c" stroke="#1c1c1c" stroke-width="0.5"/><rect x="302.36" y="478.59" width="4" height="4" fill="#1c1c1c" stroke="#1c1c1c" stroke-width="0.5"/><rect x="305.44" y="480.18" width="4" height="4" fill="#1c1c1c" stroke="#1c1c1c" stroke-width="0.5"/><rect x="308.52" y="481.7" width="4" height="4" fill="#1c1c1c" stroke="#1c1c1c" stroke-width="0.5"/><rect x="311.6" y="483.02" width="4" height="4" fill="#1c1c1c" stroke="#1c1c1c" stroke-width="0.5"/><rect x="314.68" y="484.08" width="4" height="4" fill="#1c1c1c" stroke="#1c1c1c" stroke-width="0.5"/><rect x="317.76" y="484.99" width="4" height="4" fill="#1c1c1c" stroke="#1c1c1c" stroke-width="0.5"/><rect x="320.84" y="485.81" width="4" height="4" fill="#1c1c1c" stroke="#1c1c1c" stroke-width="0.5"/><rect x="323.92" y="486.55" width="4" height="4" fill="#1c1c1c" stroke="#1c1c1c" stroke-width="0.5"/><rect x="327" y="487.21" width="4" height="4" fill="#1c1c1c" stroke="#1c1c1c" stroke-width="0.5"/><rect x="330.08" y="487.82" width="4" height="4" fill="#1c1c1c" stroke="#1c1c1c" stroke-width="0.5"/><rect x="333.16" y="488.36" width="4" height="4" fill="#1c1c1c" stroke="#1c1c1c" stroke-width="0.5"/><rect x="336.24" y="488.84" width="4" height="4" fill="#1c1c1c" stroke="#1c1c1c" stroke-width="0.5"/><rect x="339.32" y="489.25" width="4" height="4" fill="#1c1c1c" stroke="#1c1c1c" stroke-width="0.5"/><rect x="342.4" y="489.61" width="4" height="4" fill="#1c1c1c" stroke="#1c1c1c" stroke-width="0.5"/></g>
<g clip-path="url(#clip2)"><circle cx="36.4" cy="341.83" r="2.25" fill="#fff" stroke="#1c1c1c" stroke-width="0.85"/><circle cx="39.48" cy="345.86" r="2.25" fill="#fff" stroke="#1c1c1c" stroke-width="0.85"/><circle cx="42.56" cy="351.5" r="2.25" fill="#fff" stroke="#1c1c1c" stroke-width="0.85"/><circle cx="45.64" cy="356.93" r="2.25" fill="#fff" stroke="#1c1c1c" stroke-width="0.85"/><circle cx="48.72" cy="358.05" r="2.25" fill="#fff" stroke="#1c1c1c" stroke-width="0.85"/><circle cx="51.8" cy="352.05" r="2.25" fill="#fff" stroke="#1c1c1c" stroke-width="0.85"/><circle cx="54.88" cy="344.58" r="2.25" fill="#fff" stroke="#1c1c1c" stroke-width="0.85"/><circle cx="57.96" cy="336.97" r="2.25" fill="#fff" stroke="#1c1c1c" stroke-width="0.85"/><circle cx="61.04" cy="335.87" r="2.25" fill="#fff" stroke="#1c1c1c" stroke-width="0.85"/><circle cx="64.12" cy="337.31" r="2.25" fill="#fff" stroke="#1c1c1c" stroke-width="0.85"/><circle cx="67.2" cy="344.96" r="2.25" fill="#fff" stroke="#1c1c1c" stroke-width="0.85"/><circle cx="70.28" cy="355.6" r="2.25" fill="#fff" stroke="#1c1c1c" stroke-width="0.85"/><circle cx="73.36" cy="365.44" r="2.25" fill="#fff" stroke="#1c1c1c" stroke-width="0.85"/><circle cx="76.44" cy="374.41" r="2.25" fill="#fff" stroke="#1c1c1c" stroke-width="0.85"/><circle cx="79.52" cy="382.65" r="2.25" fill="#fff" stroke="#1c1c1c" stroke-width="0.85"/><circle cx="82.6" cy="389.32" r="2.25" fill="#fff" stroke="#1c1c1c" stroke-width="0.85"/><circle cx="85.68" cy="393.48" r="2.25" fill="#fff" stroke="#1c1c1c" stroke-width="0.85"/><circle cx="88.76" cy="396.64" r="2.25" fill="#fff" stroke="#1c1c1c" stroke-width="0.85"/><circle cx="91.84" cy="399.32" r="2.25" fill="#fff" stroke="#1c1c1c" stroke-width="0.85"/><circle cx="94.92" cy="401.31" r="2.25" fill="#fff" stroke="#1c1c1c" stroke-width="0.85"/><circle cx="98" cy="402.81" r="2.25" fill="#fff" stroke="#1c1c1c" stroke-width="0.85"/><circle cx="101.08" cy="403.98" r="2.25" fill="#fff" stroke="#1c1c1c" stroke-width="0.85"/><circle cx="104.16" cy="404.33" r="2.25" fill="#fff" stroke="#1c1c1c" stroke-width="0.85"/><circle cx="107.24" cy="403.95" r="2.25" fill="#fff" stroke="#1c1c1c" stroke-width="0.85"/><circle cx="110.32" cy="403.22" r="2.25" fill="#fff" stroke="#1c1c1c" stroke-width="0.85"/><circle cx="113.4" cy="402.32" r="2.25" fill="#fff" stroke="#1c1c1c" stroke-width="0.85"/><circle cx="116.48" cy="400.89" r="2.25" fill="#fff" stroke="#1c1c1c" stroke-width="0.85"/><circle cx="119.56" cy="399.07" r="2.25" fill="#fff" stroke="#1c1c1c" stroke-width="0.85"/><circle cx="122.64" cy="397.02" r="2.25" fill="#fff" stroke="#1c1c1c" stroke-width="0.85"/><circle cx="125.72" cy="394.53" r="2.25" fill="#fff" stroke="#1c1c1c" stroke-width="0.85"/><circle cx="128.8" cy="391.78" r="2.25" fill="#fff" stroke="#1c1c1c" stroke-width="0.85"/><circle cx="131.88" cy="388.8" r="2.25" fill="#fff" stroke="#1c1c1c" stroke-width="0.85"/><circle cx="134.96" cy="385.57" r="2.25" fill="#fff" stroke="#1c1c1c" stroke-width="0.85"/><circle cx="138.04" cy="382.12" r="2.25" fill="#fff" stroke="#1c1c1c" stroke-width="0.85"/><circle cx="141.12" cy="378.78" r="2.25" fill="#fff" stroke="#1c1c1c" stroke-width="0.85"/><circle cx="144.2" cy="376.07" r="2.25" fill="#fff" stroke="#1c1c1c" stroke-width="0.85"/><circle cx="147.28" cy="373.1" r="2.25" fill="#fff" stroke="#1c1c1c" stroke-width="0.85"/><circle cx="150.36" cy="369.17" r="2.25" fill="#fff" stroke="#1c1c1c" stroke-width="0.85"/><circle cx="153.44" cy="364.93" r="2.25" fill="#fff" stroke="#1c1c1c" stroke-width="0.85"/><circle cx="156.52" cy="360.68" r="2.25" fill="#fff" stroke="#1c1c1c" stroke-width="0.85"/><circle cx="159.6" cy="356.34" r="2.25" fill="#fff" stroke="#1c1c1c" stroke-width="0.85"/><circle cx="162.68" cy="352.19" r="2.25" fill="#fff" stroke="#1c1c1c" stroke-width="0.85"/><circle cx="165.76" cy="348.34" r="2.25" fill="#fff" stroke="#1c1c1c" stroke-width="0.85"/><circle cx="168.84" cy="344.68" r="2.25" fill="#fff" stroke="#1c1c1c" stroke-width="0.85"/><circle cx="171.92" cy="341.47" r="2.25" fill="#fff" stroke="#1c1c1c" stroke-width="0.85"/><circle cx="175" cy="338.69" r="2.25" fill="#fff" stroke="#1c1c1c" stroke-width="0.85"/><circle cx="178.08" cy="336.29" r="2.25" fill="#fff" stroke="#1c1c1c" stroke-width="0.85"/><circle cx="181.16" cy="334.13" r="2.25" fill="#fff" stroke="#1c1c1c" stroke-width="0.85"/><circle cx="184.24" cy="332" r="2.25" fill="#fff" stroke="#1c1c1c" stroke-width="0.85"/><circle cx="187.32" cy="330.06" r="2.25" fill="#fff" stroke="#1c1c1c" stroke-width="0.85"/><circle cx="190.4" cy="328.49" r="2.25" fill="#fff" stroke="#1c1c1c" stroke-width="0.85"/><circle cx="193.48" cy="327.22" r="2.25" fill="#fff" stroke="#1c1c1c" stroke-width="0.85"/><circle cx="196.56" cy="326.17" r="2.25" fill="#fff" stroke="#1c1c1c" stroke-width="0.85"/><circle cx="199.64" cy="325.66" r="2.25" fill="#fff" stroke="#1c1c1c" stroke-width="0.85"/><circle cx="202.72" cy="326.98" r="2.25" fill="#fff" stroke="#1c1c1c" stroke-width="0.85"/><circle cx="205.8" cy="330.17" r="2.25" fill="#fff" stroke="#1c1c1c" stroke-width="0.85"/><circle cx="208.88" cy="333.06" r="2.25" fill="#fff" stroke="#1c1c1c" stroke-width="0.85"/><circle cx="211.96" cy="336.05" r="2.25" fill="#fff" stroke="#1c1c1c" stroke-width="0.85"/><circle cx="215.04" cy="338.87" r="2.25" fill="#fff" stroke="#1c1c1c" stroke-width="0.85"/><circle cx="218.12" cy="341.17" r="2.25" fill="#fff" stroke="#1c1c1c" stroke-width="0.85"/><circle cx="221.2" cy="343.12" r="2.25" fill="#fff" stroke="#1c1c1c" stroke-width="0.85"/><circle cx="224.28" cy="345.08" r="2.25" fill="#fff" stroke="#1c1c1c" stroke-width="0.85"/><circle cx="227.36" cy="347.42" r="2.25" fill="#fff" stroke="#1c1c1c" stroke-width="0.85"/><circle cx="230.44" cy="350.13" r="2.25" fill="#fff" stroke="#1c1c1c" stroke-width="0.85"/><circle cx="233.52" cy="353.49" r="2.25" fill="#fff" stroke="#1c1c1c" stroke-width="0.85"/><circle cx="236.6" cy="358.55" r="2.25" fill="#fff" stroke="#1c1c1c" stroke-width="0.85"/><circle cx="239.68" cy="366.18" r="2.25" fill="#fff" stroke="#1c1c1c" stroke-width="0.85"/><circle cx="242.76" cy="374.37" r="2.25" fill="#fff" stroke="#1c1c1c" stroke-width="0.85"/><circle cx="245.84" cy="382.21" r="2.25" fill="#fff" stroke="#1c1c1c" stroke-width="0.85"/><circle cx="248.92" cy="389.08" r="2.25" fill="#fff" stroke="#1c1c1c" stroke-width="0.85"/><circle cx="252" cy="394.94" r="2.25" fill="#fff" stroke="#1c1c1c" stroke-width="0.85"/><circle cx="255.08" cy="398.86" r="2.25" fill="#fff" stroke="#1c1c1c" stroke-width="0.85"/><circle cx="258.16" cy="401.57" r="2.25" fill="#fff" stroke="#1c1c1c" stroke-width="0.85"/><circle cx="261.24" cy="403.73" r="2.25" fill="#fff" stroke="#1c1c1c" stroke-width="0.85"/><circle cx="264.32" cy="405.31" r="2.25" fill="#fff" stroke="#1c1c1c" stroke-width="0.85"/><circle cx="267.4" cy="407.41" r="2.25" fill="#fff" stroke="#1c1c1c" stroke-width="0.85"/><circle cx="270.48" cy="411.46" r="2.25" fill="#fff" stroke="#1c1c1c" stroke-width="0.85"/><circle cx="273.56" cy="416.91" r="2.25" fill="#fff" stroke="#1c1c1c" stroke-width="0.85"/><circle cx="276.64" cy="423.8" r="2.25" fill="#fff" stroke="#1c1c1c" stroke-width="0.85"/><circle cx="279.72" cy="436.59" r="2.25" fill="#fff" stroke="#1c1c1c" stroke-width="0.85"/><circle cx="282.8" cy="447.37" r="2.25" fill="#fff" stroke="#1c1c1c" stroke-width="0.85"/><circle cx="285.88" cy="457.31" r="2.25" fill="#fff" stroke="#1c1c1c" stroke-width="0.85"/><circle cx="288.96" cy="466.35" r="2.25" fill="#fff" stroke="#1c1c1c" stroke-width="0.85"/><circle cx="292.04" cy="472.03" r="2.25" fill="#fff" stroke="#1c1c1c" stroke-width="0.85"/><circle cx="295.12" cy="476.24" r="2.25" fill="#fff" stroke="#1c1c1c" stroke-width="0.85"/><circle cx="298.2" cy="479.18" r="2.25" fill="#fff" stroke="#1c1c1c" stroke-width="0.85"/><circle cx="301.28" cy="481.2" r="2.25" fill="#fff" stroke="#1c1c1c" stroke-width="0.85"/><circle cx="304.36" cy="482.83" r="2.25" fill="#fff" stroke="#1c1c1c" stroke-width="0.85"/><circle cx="307.44" cy="484.35" r="2.25" fill="#fff" stroke="#1c1c1c" stroke-width="0.85"/><circle cx="310.52" cy="485.88" r="2.25" fill="#fff" stroke="#1c1c1c" stroke-width="0.85"/><circle cx="313.6" cy="487.21" r="2.25" fill="#fff" stroke="#1c1c1c" stroke-width="0.85"/><circle cx="316.68" cy="488.28" r="2.25" fill="#fff" stroke="#1c1c1c" stroke-width="0.85"/><circle cx="319.76" cy="489.19" r="2.25" fill="#fff" stroke="#1c1c1c" stroke-width="0.85"/><circle cx="322.84" cy="490.01" r="2.25" fill="#fff" stroke="#1c1c1c" stroke-width="0.85"/><circle cx="325.92" cy="490.77" r="2.25" fill="#fff" stroke="#1c1c1c" stroke-width="0.85"/><circle cx="329" cy="491.41" r="2.25" fill="#fff" stroke="#1c1c1c" stroke-width="0.85"/><circle cx="332.08" cy="491.93" r="2.25" fill="#fff" stroke="#1c1c1c" stroke-width="0.85"/><circle cx="335.16" cy="492.39" r="2.25" fill="#fff" stroke="#1c1c1c" stroke-width="0.85"/><circle cx="338.24" cy="492.82" r="2.25" fill="#fff" stroke="#1c1c1c" stroke-width="0.85"/><circle cx="341.32" cy="493.23" r="2.25" fill="#fff" stroke="#1c1c1c" stroke-width="0.85"/><circle cx="344.4" cy="493.6" r="2.25" fill="#fff" stroke="#1c1c1c" stroke-width="0.85"/></g>
<g clip-path="url(#clip2)"><polygon points="36.4,351.19 33.32,356.44 39.48,356.44" fill="#1c1c1c" stroke="#1c1c1c" stroke-width="0.4"/><polygon points="39.48,356.73 36.4,361.97 42.56,361.97" fill="#1c1c1c" stroke="#1c1c1c" stroke-width="0.4"/><polygon points="42.56,361.28 39.48,366.52 45.64,366.52" fill="#1c1c1c" stroke="#1c1c1c" stroke-width="0.4"/><polygon points="45.64,365.86 42.56,371.1 48.72,371.1" fill="#1c1c1c" stroke="#1c1c1c" stroke-width="0.4"/><polygon points="48.72,365.03 45.64,370.28 51.8,370.28" fill="#1c1c1c" stroke="#1c1c1c" stroke-width="0.4"/><polygon points="51.8,361.95 48.72,367.19 54.88,367.19" fill="#1c1c1c" stroke="#1c1c1c" stroke-width="0.4"/><polygon points="54.88,357.74 51.8,362.98 57.96,362.98" fill="#1c1c1c" stroke="#1c1c1c" stroke-width="0.4"/><polygon points="57.96,354.62 54.88,359.86 61.04,359.86" fill="#1c1c1c" stroke="#1c1c1c" stroke-width="0.4"/><polygon points="61.04,353.22 57.96,358.46 64.12,358.46" fill="#1c1c1c" stroke="#1c1c1c" stroke-width="0.4"/><polygon points="64.12,355.69 61.04,360.94 67.2,360.94" fill="#1c1c1c" stroke="#1c1c1c" stroke-width="0.4"/><polygon points="67.2,360.36 64.12,365.61 70.28,365.61" fill="#1c1c1c" stroke="#1c1c1c" stroke-width="0.4"/><polygon points="70.28,368.39 67.2,373.63 73.36,373.63" fill="#1c1c1c" stroke="#1c1c1c" stroke-width="0.4"/><polygon points="73.36,377.63 70.28,382.87 76.44,382.87" fill="#1c1c1c" stroke="#1c1c1c" stroke-width="0.4"/><polygon points="76.44,384.96 73.36,390.21 79.52,390.21" fill="#1c1c1c" stroke="#1c1c1c" stroke-width="0.4"/><polygon points="79.52,390.95 76.44,396.19 82.6,396.19" fill="#1c1c1c" stroke="#1c1c1c" stroke-width="0.4"/><polygon points="82.6,396.06 79.52,401.3 85.68,401.3" fill="#1c1c1c" stroke="#1c1c1c" stroke-width="0.4"/><polygon points="85.68,399.86 82.6,405.1 88.76,405.1" fill="#1c1c1c" stroke="#1c1c1c" stroke-width="0.4"/><polygon points="88.76,402.82 85.68,408.07 91.84,408.07" fill="#1c1c1c" stroke="#1c1c1c" stroke-width="0.4"/><polygon points="91.84,404.8 88.76,410.04 94.92,410.04" fill="#1c1c1c" stroke="#1c1c1c" stroke-width="0.4"/><polygon points="94.92,405.82 91.84,411.07 98,411.07" fill="#1c1c1c" stroke="#1c1c1c" stroke-width="0.4"/><polygon points="98,406.64 94.92,411.89 101.08,411.89" fill="#1c1c1c" stroke="#1c1c1c" stroke-width="0.4"/><polygon points="101.08,407.17 98,412.41 104.16,412.41" fill="#1c1c1c" stroke="#1c1c1c" stroke-width="0.4"/><polygon points="104.16,407.3 101.08,412.54 107.24,412.54" fill="#1c1c1c" stroke="#1c1c1c" stroke-width="0.4"/><polygon points="107.24,407.01 104.16,412.26 110.32,412.26" fill="#1c1c1c" stroke="#1c1c1c" stroke-width="0.4"/><polygon points="110.32,406.45 107.24,411.69 113.4,411.69" fill="#1c1c1c" stroke="#1c1c1c" stroke-width="0.4"/><polygon points="113.4,405.65 110.32,410.9 116.48,410.9" fill="#1c1c1c" stroke="#1c1c1c" stroke-width="0.4"/><polygon points="116.48,404.2 113.4,409.45 119.56,409.45" fill="#1c1c1c" stroke="#1c1c1c" stroke-width="0.4"/><polygon points="119.56,402.4 116.48,407.64 122.64,407.64" fill="#1c1c1c" stroke="#1c1c1c" stroke-width="0.4"/><polygon points="122.64,400.53 119.56,405.77 125.72,405.77" fill="#1c1c1c" stroke="#1c1c1c" stroke-width="0.4"/><polygon points="125.72,398.4 122.64,403.65 128.8,403.65" fill="#1c1c1c" stroke="#1c1c1c" stroke-width="0.4"/><polygon points="128.8,396.12 125.72,401.37 131.88,401.37" fill="#1c1c1c" stroke="#1c1c1c" stroke-width="0.4"/><polygon points="131.88,393.75 128.8,398.99 134.96,398.99" fill="#1c1c1c" stroke="#1c1c1c" stroke-width="0.4"/><polygon points="134.96,391.24 131.88,396.48 138.04,396.48" fill="#1c1c1c" stroke="#1c1c1c" stroke-width="0.4"/><polygon points="138.04,388.61 134.96,393.85 141.12,393.85" fill="#1c1c1c" stroke="#1c1c1c" stroke-width="0.4"/><polygon points="141.12,385.81 138.04,391.05 144.2,391.05" fill="#1c1c1c" stroke="#1c1c1c" stroke-width="0.4"/><polygon points="144.2,382.84 141.12,388.08 147.28,388.08" fill="#1c1c1c" stroke="#1c1c1c" stroke-width="0.4"/><polygon points="147.28,379.87 144.2,385.11 150.36,385.11" fill="#1c1c1c" stroke="#1c1c1c" stroke-width="0.4"/><polygon points="150.36,377.06 147.28,382.31 153.44,382.31" fill="#1c1c1c" stroke="#1c1c1c" stroke-width="0.4"/><polygon points="153.44,374.33 150.36,379.58 156.52,379.58" fill="#1c1c1c" stroke="#1c1c1c" stroke-width="0.4"/><polygon points="156.52,371.49 153.44,376.73 159.6,376.73" fill="#1c1c1c" stroke="#1c1c1c" stroke-width="0.4"/><polygon points="159.6,368.5 156.52,373.74 162.68,373.74" fill="#1c1c1c" stroke="#1c1c1c" stroke-width="0.4"/><polygon points="162.68,364.87 159.6,370.12 165.76,370.12" fill="#1c1c1c" stroke="#1c1c1c" stroke-width="0.4"/><polygon points="165.76,360.25 162.68,365.5 168.84,365.5" fill="#1c1c1c" stroke="#1c1c1c" stroke-width="0.4"/><polygon points="168.84,356.41 165.76,361.65 171.92,361.65" fill="#1c1c1c" stroke="#1c1c1c" stroke-width="0.4"/><polygon points="171.92,353.54 168.84,358.78 175,358.78" fill="#1c1c1c" stroke="#1c1c1c" stroke-width="0.4"/><polygon points="175,350.5 171.92,355.74 178.08,355.74" fill="#1c1c1c" stroke="#1c1c1c" stroke-width="0.4"/><polygon points="178.08,347.19 175,352.44 181.16,352.44" fill="#1c1c1c" stroke="#1c1c1c" stroke-width="0.4"/><polygon points="181.16,344.58 178.08,349.82 184.24,349.82" fill="#1c1c1c" stroke="#1c1c1c" stroke-width="0.4"/><polygon points="184.24,342.62 181.16,347.87 187.32,347.87" fill="#1c1c1c" stroke="#1c1c1c" stroke-width="0.4"/><polygon points="187.32,340.84 184.24,346.08 190.4,346.08" fill="#1c1c1c" stroke="#1c1c1c" stroke-width="0.4"/><polygon points="190.4,338.99 187.32,344.23 193.48,344.23" fill="#1c1c1c" stroke="#1c1c1c" stroke-width="0.4"/><polygon points="193.48,337.28 190.4,342.53 196.56,342.53" fill="#1c1c1c" stroke="#1c1c1c" stroke-width="0.4"/><polygon points="196.56,335.82 193.48,341.06 199.64,341.06" fill="#1c1c1c" stroke="#1c1c1c" stroke-width="0.4"/><polygon points="199.64,334.64 196.56,339.88 202.72,339.88" fill="#1c1c1c" stroke="#1c1c1c" stroke-width="0.4"/><polygon points="202.72,335.47 199.64,340.71 205.8,340.71" fill="#1c1c1c" stroke="#1c1c1c" stroke-width="0.4"/><polygon points="205.8,337.76 202.72,343 208.88,343" fill="#1c1c1c" stroke="#1c1c1c" stroke-width="0.4"/><polygon points="208.88,340.24 205.8,345.48 211.96,345.48" fill="#1c1c1c" stroke="#1c1c1c" stroke-width="0.4"/><polygon points="211.96,342.75 208.88,348 215.04,348" fill="#1c1c1c" stroke="#1c1c1c" stroke-width="0.4"/><polygon points="215.04,345.52 211.96,350.76 218.12,350.76" fill="#1c1c1c" stroke="#1c1c1c" stroke-width="0.4"/><polygon points="218.12,348.22 215.04,353.46 221.2,353.46" fill="#1c1c1c" stroke="#1c1c1c" stroke-width="0.4"/><polygon points="221.2,350.55 218.12,355.79 224.28,355.79" fill="#1c1c1c" stroke="#1c1c1c" stroke-width="0.4"/><polygon points="224.28,352.65 221.2,357.89 227.36,357.89" fill="#1c1c1c" stroke="#1c1c1c" stroke-width="0.4"/><polygon points="227.36,354.95 224.28,360.19 230.44,360.19" fill="#1c1c1c" stroke="#1c1c1c" stroke-width="0.4"/><polygon points="230.44,357.89 227.36,363.13 233.52,363.13" fill="#1c1c1c" stroke="#1c1c1c" stroke-width="0.4"/><polygon points="233.52,362.13 230.44,367.38 236.6,367.38" fill="#1c1c1c" stroke="#1c1c1c" stroke-width="0.4"/><polygon points="236.6,367.45 233.52,372.7 239.68,372.7" fill="#1c1c1c" stroke="#1c1c1c" stroke-width="0.4"/><polygon points="239.68,374.27 236.6,379.52 242.76,379.52" fill="#1c1c1c" stroke="#1c1c1c" stroke-width="0.4"/><polygon points="242.76,381.53 239.68,386.78 245.84,386.78" fill="#1c1c1c" stroke="#1c1c1c" stroke-width="0.4"/><polygon points="245.84,388.38 242.76,393.62 248.92,393.62" fill="#1c1c1c" stroke="#1c1c1c" stroke-width="0.4"/><polygon points="248.92,394.09 245.84,399.34 252,399.34" fill="#1c1c1c" stroke="#1c1c1c" stroke-width="0.4"/><polygon points="252,399.01 248.92,404.26 255.08,404.26" fill="#1c1c1c" stroke="#1c1c1c" stroke-width="0.4"/><polygon points="255.08,403.36 252,408.61 258.16,408.61" fill="#1c1c1c" stroke="#1c1c1c" stroke-width="0.4"/><polygon points="258.16,406.79 255.08,412.04 261.24,412.04" fill="#1c1c1c" stroke="#1c1c1c" stroke-width="0.4"/><polygon points="261.24,409.49 258.16,414.74 264.32,414.74" fill="#1c1c1c" stroke="#1c1c1c" stroke-width="0.4"/><polygon points="264.32,411.86 261.24,417.1 267.4,417.1" fill="#1c1c1c" stroke="#1c1c1c" stroke-width="0.4"/><polygon points="267.4,413.99 264.32,419.23 270.48,419.23" fill="#1c1c1c" stroke="#1c1c1c" stroke-width="0.4"/><polygon points="270.48,415.99 267.4,421.23 273.56,421.23" fill="#1c1c1c" stroke="#1c1c1c" stroke-width="0.4"/><polygon points="273.56,421.26 270.48,426.51 276.64,426.51" fill="#1c1c1c" stroke="#1c1c1c" stroke-width="0.4"/><polygon points="276.64,428.53 273.56,433.78 279.72,433.78" fill="#1c1c1c" stroke="#1c1c1c" stroke-width="0.4"/><polygon points="279.72,440.37 276.64,445.62 282.8,445.62" fill="#1c1c1c" stroke="#1c1c1c" stroke-width="0.4"/><polygon points="282.8,450.54 279.72,455.79 285.88,455.79" fill="#1c1c1c" stroke="#1c1c1c" stroke-width="0.4"/><polygon points="285.88,459.93 282.8,465.18 288.96,465.18" fill="#1c1c1c" stroke="#1c1c1c" stroke-width="0.4"/><polygon points="288.96,466.62 285.88,471.86 292.04,471.86" fill="#1c1c1c" stroke="#1c1c1c" stroke-width="0.4"/><polygon points="292.04,471.46 288.96,476.7 295.12,476.7" fill="#1c1c1c" stroke="#1c1c1c" stroke-width="0.4"/><polygon points="295.12,475.37 292.04,480.61 298.2,480.61" fill="#1c1c1c" stroke="#1c1c1c" stroke-width="0.4"/><polygon points="298.2,478.33 295.12,483.57 301.28,483.57" fill="#1c1c1c" stroke="#1c1c1c" stroke-width="0.4"/><polygon points="301.28,480.55 298.2,485.79 304.36,485.79" fill="#1c1c1c" stroke="#1c1c1c" stroke-width="0.4"/><polygon points="304.36,482.36 301.28,487.61 307.44,487.61" fill="#1c1c1c" stroke="#1c1c1c" stroke-width="0.4"/><polygon points="307.44,483.92 304.36,489.16 310.52,489.16" fill="#1c1c1c" stroke="#1c1c1c" stroke-width="0.4"/><polygon points="310.52,485.36 307.44,490.61 313.6,490.61" fill="#1c1c1c" stroke="#1c1c1c" stroke-width="0.4"/><polygon points="313.6,486.59 310.52,491.83 316.68,491.83" fill="#1c1c1c" stroke="#1c1c1c" stroke-width="0.4"/><polygon points="316.68,487.57 313.6,492.81 319.76,492.81" fill="#1c1c1c" stroke="#1c1c1c" stroke-width="0.4"/><polygon points="319.76,488.41 316.68,493.65 322.84,493.65" fill="#1c1c1c" stroke="#1c1c1c" stroke-width="0.4"/><polygon points="322.84,489.14 319.76,494.39 325.92,494.39" fill="#1c1c1c" stroke="#1c1c1c" stroke-width="0.4"/><polygon points="325.92,489.8 322.84,495.05 329,495.05" fill="#1c1c1c" stroke="#1c1c1c" stroke-width="0.4"/><polygon points="329,490.38 325.92,495.63 332.08,495.63" fill="#1c1c1c" stroke="#1c1c1c" stroke-width="0.4"/><polygon points="332.08,490.91 329,496.15 335.16,496.15" fill="#1c1c1c" stroke="#1c1c1c" stroke-width="0.4"/><polygon points="335.16,491.38 332.08,496.62 338.24,496.62" fill="#1c1c1c" stroke="#1c1c1c" stroke-width="0.4"/><polygon points="338.24,491.77 335.16,497.01 341.32,497.01" fill="#1c1c1c" stroke="#1c1c1c" stroke-width="0.4"/><polygon points="341.32,492.1 338.24,497.35 344.4,497.35" fill="#1c1c1c" stroke="#1c1c1c" stroke-width="0.4"/><polygon points="344.4,492.38 341.32,497.62 347.48,497.62" fill="#1c1c1c" stroke="#1c1c1c" stroke-width="0.4"/></g>
<g clip-path="url(#clip2)"><polygon points="36.4,370.34 37.17,372.38 39.35,372.48 37.64,373.84 38.22,375.94 36.4,374.74 34.58,375.94 35.16,373.84 33.45,372.48 35.63,372.38" fill="#fff" stroke="#1c1c1c" stroke-width="0.8" stroke-linejoin="miter"/><polygon points="39.48,373.7 40.25,375.75 42.43,375.85 40.72,377.21 41.3,379.31 39.48,378.11 37.66,379.31 38.24,377.21 36.53,375.85 38.71,375.75" fill="#fff" stroke="#1c1c1c" stroke-width="0.8" stroke-linejoin="miter"/><polygon points="42.56,378.12 43.33,380.16 45.51,380.26 43.8,381.62 44.38,383.73 42.56,382.52 40.74,383.73 41.32,381.62 39.61,380.26 41.79,380.16" fill="#fff" stroke="#1c1c1c" stroke-width="0.8" stroke-linejoin="miter"/><polygon points="45.64,382.67 46.41,384.71 48.59,384.81 46.88,386.17 47.46,388.27 45.64,387.07 43.82,388.27 44.4,386.17 42.69,384.81 44.87,384.71" fill="#fff" stroke="#1c1c1c" stroke-width="0.8" stroke-linejoin="miter"/><polygon points="48.72,383.7 49.49,385.75 51.67,385.84 49.96,387.2 50.54,389.31 48.72,388.1 46.9,389.31 47.48,387.2 45.77,385.84 47.95,385.75" fill="#fff" stroke="#1c1c1c" stroke-width="0.8" stroke-linejoin="miter"/><polygon points="51.8,380.59 52.57,382.64 54.75,382.74 53.04,384.1 53.62,386.2 51.8,385 49.98,386.2 50.56,384.1 48.85,382.74 51.03,382.64" fill="#fff" stroke="#1c1c1c" stroke-width="0.8" stroke-linejoin="miter"/><polygon points="54.88,375.34 55.65,377.39 57.83,377.48 56.12,378.84 56.7,380.95 54.88,379.74 53.06,380.95 53.64,378.84 51.93,377.48 54.11,377.39" fill="#fff" stroke="#1c1c1c" stroke-width="0.8" stroke-linejoin="miter"/><polygon points="57.96,369.26 58.73,371.31 60.91,371.41 59.2,372.77 59.78,374.87 57.96,373.67 56.14,374.87 56.72,372.77 55.01,371.41 57.19,371.31" fill="#fff" stroke="#1c1c1c" stroke-width="0.8" stroke-linejoin="miter"/><polygon points="61.04,363.86 61.81,365.91 63.99,366 62.28,367.36 62.86,369.47 61.04,368.26 59.22,369.47 59.8,367.36 58.09,366 60.27,365.91" fill="#fff" stroke="#1c1c1c" stroke-width="0.8" stroke-linejoin="miter"/><polygon points="64.12,364.58 64.89,366.63 67.07,366.73 65.36,368.09 65.94,370.19 64.12,368.99 62.3,370.19 62.88,368.09 61.17,366.73 63.35,366.63" fill="#fff" stroke="#1c1c1c" stroke-width="0.8" stroke-linejoin="miter"/><polygon points="67.2,371.01 67.97,373.06 70.15,373.15 68.44,374.51 69.02,376.62 67.2,375.41 65.38,376.62 65.96,374.51 64.25,373.15 66.43,373.06" fill="#fff" stroke="#1c1c1c" stroke-width="0.8" stroke-linejoin="miter"/><polygon points="70.28,379.51 71.05,381.56 73.23,381.66 71.52,383.02 72.1,385.12 70.28,383.92 68.46,385.12 69.04,383.02 67.33,381.66 69.51,381.56" fill="#fff" stroke="#1c1c1c" stroke-width="0.8" stroke-linejoin="miter"/><polygon points="73.36,387.36 74.13,389.41 76.31,389.5 74.6,390.86 75.18,392.97 73.36,391.76 71.54,392.97 72.12,390.86 70.41,389.5 72.59,389.41" fill="#fff" stroke="#1c1c1c" stroke-width="0.8" stroke-linejoin="miter"/><polygon points="76.44,393.86 77.21,395.9 79.39,396 77.68,397.36 78.26,399.46 76.44,398.26 74.62,399.46 75.2,397.36 73.49,396 75.67,395.9" fill="#fff" stroke="#1c1c1c" stroke-width="0.8" stroke-linejoin="miter"/><polygon points="79.52,399.3 80.29,401.35 82.47,401.45 80.76,402.81 81.34,404.91 79.52,403.71 77.7,404.91 78.28,402.81 76.57,401.45 78.75,401.35" fill="#fff" stroke="#1c1c1c" stroke-width="0.8" stroke-linejoin="miter"/><polygon points="82.6,404.67 83.37,406.72 85.55,406.82 83.84,408.18 84.42,410.28 82.6,409.08 80.78,410.28 81.36,408.18 79.65,406.82 81.83,406.72" fill="#fff" stroke="#1c1c1c" stroke-width="0.8" stroke-linejoin="miter"/><polygon points="85.68,408.18 86.45,410.23 88.63,410.32 86.92,411.69 87.5,413.79 85.68,412.58 83.86,413.79 84.44,411.69 82.73,410.32 84.91,410.23" fill="#fff" stroke="#1c1c1c" stroke-width="0.8" stroke-linejoin="miter"/><polygon points="88.76,410.66 89.53,412.71 91.71,412.81 90,414.17 90.58,416.27 88.76,415.07 86.94,416.27 87.52,414.17 85.81,412.81 87.99,412.71" fill="#fff" stroke="#1c1c1c" stroke-width="0.8" stroke-linejoin="miter"/><polygon points="91.84,412.35 92.61,414.4 94.79,414.49 93.08,415.85 93.66,417.96 91.84,416.75 90.02,417.96 90.6,415.85 88.89,414.49 91.07,414.4" fill="#fff" stroke="#1c1c1c" stroke-width="0.8" stroke-linejoin="miter"/><polygon points="94.92,413.49 95.69,415.53 97.87,415.63 96.16,416.99 96.74,419.09 94.92,417.89 93.1,419.09 93.68,416.99 91.97,415.63 94.15,415.53" fill="#fff" stroke="#1c1c1c" stroke-width="0.8" stroke-linejoin="miter"/><polygon points="98,414.45 98.77,416.5 100.95,416.59 99.24,417.95 99.82,420.06 98,418.85 96.18,420.06 96.76,417.95 95.05,416.59 97.23,416.5" fill="#fff" stroke="#1c1c1c" stroke-width="0.8" stroke-linejoin="miter"/><polygon points="101.08,415.09 101.85,417.14 104.03,417.23 102.32,418.59 102.9,420.7 101.08,419.49 99.26,420.7 99.84,418.59 98.13,417.23 100.31,417.14" fill="#fff" stroke="#1c1c1c" stroke-width="0.8" stroke-linejoin="miter"/><polygon points="104.16,415.26 104.93,417.31 107.11,417.4 105.4,418.76 105.98,420.87 104.16,419.66 102.34,420.87 102.92,418.76 101.21,417.4 103.39,417.31" fill="#fff" stroke="#1c1c1c" stroke-width="0.8" stroke-linejoin="miter"/><polygon points="107.24,415.04 108.01,417.09 110.19,417.19 108.48,418.55 109.06,420.65 107.24,419.45 105.42,420.65 106,418.55 104.29,417.19 106.47,417.09" fill="#fff" stroke="#1c1c1c" stroke-width="0.8" stroke-linejoin="miter"/><polygon points="110.32,414.61 111.09,416.66 113.27,416.75 111.56,418.11 112.14,420.22 110.32,419.01 108.5,420.22 109.08,418.11 107.37,416.75 109.55,416.66" fill="#fff" stroke="#1c1c1c" stroke-width="0.8" stroke-linejoin="miter"/><polygon points="113.4,414.07 114.17,416.12 116.35,416.21 114.64,417.57 115.22,419.68 113.4,418.47 111.58,419.68 112.16,417.57 110.45,416.21 112.63,416.12" fill="#fff" stroke="#1c1c1c" stroke-width="0.8" stroke-linejoin="miter"/><polygon points="116.48,413.33 117.25,415.37 119.43,415.47 117.72,416.83 118.3,418.93 116.48,417.73 114.66,418.93 115.24,416.83 113.53,415.47 115.71,415.37" fill="#fff" stroke="#1c1c1c" stroke-width="0.8" stroke-linejoin="miter"/><polygon points="119.56,412.26 120.33,414.31 122.51,414.4 120.8,415.76 121.38,417.87 119.56,416.66 117.74,417.87 118.32,415.76 116.61,414.4 118.79,414.31" fill="#fff" stroke="#1c1c1c" stroke-width="0.8" stroke-linejoin="miter"/><polygon points="122.64,410.96 123.41,413 125.59,413.1 123.88,414.46 124.46,416.56 122.64,415.36 120.82,416.56 121.4,414.46 119.69,413.1 121.87,413" fill="#fff" stroke="#1c1c1c" stroke-width="0.8" stroke-linejoin="miter"/><polygon points="125.72,409.49 126.49,411.53 128.67,411.63 126.96,412.99 127.54,415.09 125.72,413.89 123.9,415.09 124.48,412.99 122.77,411.63 124.95,411.53" fill="#fff" stroke="#1c1c1c" stroke-width="0.8" stroke-linejoin="miter"/><polygon points="128.8,407.58 129.57,409.62 131.75,409.72 130.04,411.08 130.62,413.18 128.8,411.98 126.98,413.18 127.56,411.08 125.85,409.72 128.03,409.62" fill="#fff" stroke="#1c1c1c" stroke-width="0.8" stroke-linejoin="miter"/><polygon points="131.88,405.3 132.65,407.35 134.83,407.44 133.12,408.8 133.7,410.91 131.88,409.7 130.06,410.91 130.64,408.8 128.93,407.44 131.11,407.35" fill="#fff" stroke="#1c1c1c" stroke-width="0.8" stroke-linejoin="miter"/><polygon points="134.96,402.72 135.73,404.76 137.91,404.86 136.2,406.22 136.78,408.33 134.96,407.12 133.14,408.33 133.72,406.22 132.01,404.86 134.19,404.76" fill="#fff" stroke="#1c1c1c" stroke-width="0.8" stroke-linejoin="miter"/><polygon points="138.04,399.74 138.81,401.79 140.99,401.89 139.28,403.25 139.86,405.35 138.04,404.15 136.22,405.35 136.8,403.25 135.09,401.89 137.27,401.79" fill="#fff" stroke="#1c1c1c" stroke-width="0.8" stroke-linejoin="miter"/><polygon points="141.12,396.66 141.89,398.71 144.07,398.8 142.36,400.16 142.94,402.27 141.12,401.06 139.3,402.27 139.88,400.16 138.17,398.8 140.35,398.71" fill="#fff" stroke="#1c1c1c" stroke-width="0.8" stroke-linejoin="miter"/><polygon points="144.2,393.71 144.97,395.75 147.15,395.85 145.44,397.21 146.02,399.31 144.2,398.11 142.38,399.31 142.96,397.21 141.25,395.85 143.43,395.75" fill="#fff" stroke="#1c1c1c" stroke-width="0.8" stroke-linejoin="miter"/><polygon points="147.28,390.74 148.05,392.79 150.23,392.88 148.52,394.24 149.1,396.35 147.28,395.14 145.46,396.35 146.04,394.24 144.33,392.88 146.51,392.79" fill="#fff" stroke="#1c1c1c" stroke-width="0.8" stroke-linejoin="miter"/><polygon points="150.36,387.84 151.13,389.88 153.31,389.98 151.6,391.34 152.18,393.44 150.36,392.24 148.54,393.44 149.12,391.34 147.41,389.98 149.59,389.88" fill="#fff" stroke="#1c1c1c" stroke-width="0.8" stroke-linejoin="miter"/><polygon points="153.44,385.13 154.21,387.17 156.39,387.27 154.68,388.63 155.26,390.74 153.44,389.53 151.62,390.74 152.2,388.63 150.49,387.27 152.67,387.17" fill="#fff" stroke="#1c1c1c" stroke-width="0.8" stroke-linejoin="miter"/><polygon points="156.52,382.78 157.29,384.83 159.47,384.92 157.76,386.28 158.34,388.39 156.52,387.18 154.7,388.39 155.28,386.28 153.57,384.92 155.75,384.83" fill="#fff" stroke="#1c1c1c" stroke-width="0.8" stroke-linejoin="miter"/><polygon points="159.6,380.33 160.37,382.37 162.55,382.47 160.84,383.83 161.42,385.94 159.6,384.73 157.78,385.94 158.36,383.83 156.65,382.47 158.83,382.37" fill="#fff" stroke="#1c1c1c" stroke-width="0.8" stroke-linejoin="miter"/><polygon points="162.68,377.16 163.45,379.2 165.63,379.3 163.92,380.66 164.5,382.76 162.68,381.56 160.86,382.76 161.44,380.66 159.73,379.3 161.91,379.2" fill="#fff" stroke="#1c1c1c" stroke-width="0.8" stroke-linejoin="miter"/><polygon points="165.76,374.16 166.53,376.21 168.71,376.31 167,377.67 167.58,379.77 165.76,378.57 163.94,379.77 164.52,377.67 162.81,376.31 164.99,376.21" fill="#fff" stroke="#1c1c1c" stroke-width="0.8" stroke-linejoin="miter"/><polygon points="168.84,371.55 169.61,373.59 171.79,373.69 170.08,375.05 170.66,377.15 168.84,375.95 167.02,377.15 167.6,375.05 165.89,373.69 168.07,373.59" fill="#fff" stroke="#1c1c1c" stroke-width="0.8" stroke-linejoin="miter"/><polygon points="171.92,368.88 172.69,370.93 174.87,371.03 173.16,372.39 173.74,374.49 171.92,373.29 170.1,374.49 170.68,372.39 168.97,371.03 171.15,370.93" fill="#fff" stroke="#1c1c1c" stroke-width="0.8" stroke-linejoin="miter"/><polygon points="175,366.54 175.77,368.59 177.95,368.69 176.24,370.05 176.82,372.15 175,370.95 173.18,372.15 173.76,370.05 172.05,368.69 174.23,368.59" fill="#fff" stroke="#1c1c1c" stroke-width="0.8" stroke-linejoin="miter"/><polygon points="178.08,364.74 178.85,366.79 181.03,366.88 179.32,368.24 179.9,370.35 178.08,369.14 176.26,370.35 176.84,368.24 175.13,366.88 177.31,366.79" fill="#fff" stroke="#1c1c1c" stroke-width="0.8" stroke-linejoin="miter"/><polygon points="181.16,363.16 181.93,365.2 184.11,365.3 182.4,366.66 182.98,368.76 181.16,367.56 179.34,368.76 179.92,366.66 178.21,365.3 180.39,365.2" fill="#fff" stroke="#1c1c1c" stroke-width="0.8" stroke-linejoin="miter"/><polygon points="184.24,361.83 185.01,363.88 187.19,363.97 185.48,365.33 186.06,367.44 184.24,366.23 182.42,367.44 183,365.33 181.29,363.97 183.47,363.88" fill="#fff" stroke="#1c1c1c" stroke-width="0.8" stroke-linejoin="miter"/><polygon points="187.32,361.04 188.09,363.09 190.27,363.19 188.56,364.55 189.14,366.65 187.32,365.45 185.5,366.65 186.08,364.55 184.37,363.19 186.55,363.09" fill="#fff" stroke="#1c1c1c" stroke-width="0.8" stroke-linejoin="miter"/><polygon points="190.4,360.43 191.17,362.48 193.35,362.57 191.64,363.93 192.22,366.04 190.4,364.83 188.58,366.04 189.16,363.93 187.45,362.57 189.63,362.48" fill="#fff" stroke="#1c1c1c" stroke-width="0.8" stroke-linejoin="miter"/><polygon points="193.48,359.82 194.25,361.86 196.43,361.96 194.72,363.32 195.3,365.42 193.48,364.22 191.66,365.42 192.24,363.32 190.53,361.96 192.71,361.86" fill="#fff" stroke="#1c1c1c" stroke-width="0.8" stroke-linejoin="miter"/><polygon points="196.56,359.04 197.33,361.09 199.51,361.18 197.8,362.54 198.38,364.65 196.56,363.44 194.74,364.65 195.32,362.54 193.61,361.18 195.79,361.09" fill="#fff" stroke="#1c1c1c" stroke-width="0.8" stroke-linejoin="miter"/><polygon points="199.64,358.56 200.41,360.61 202.59,360.7 200.88,362.06 201.46,364.17 199.64,362.96 197.82,364.17 198.4,362.06 196.69,360.7 198.87,360.61" fill="#fff" stroke="#1c1c1c" stroke-width="0.8" stroke-linejoin="miter"/><polygon points="202.72,359.97 203.49,362.02 205.67,362.11 203.96,363.47 204.54,365.58 202.72,364.37 200.9,365.58 201.48,363.47 199.77,362.11 201.95,362.02" fill="#fff" stroke="#1c1c1c" stroke-width="0.8" stroke-linejoin="miter"/><polygon points="205.8,363.19 206.57,365.24 208.75,365.33 207.04,366.7 207.62,368.8 205.8,367.59 203.98,368.8 204.56,366.7 202.85,365.33 205.03,365.24" fill="#fff" stroke="#1c1c1c" stroke-width="0.8" stroke-linejoin="miter"/><polygon points="208.88,365.64 209.65,367.68 211.83,367.78 210.12,369.14 210.7,371.25 208.88,370.04 207.06,371.25 207.64,369.14 205.93,367.78 208.11,367.68" fill="#fff" stroke="#1c1c1c" stroke-width="0.8" stroke-linejoin="miter"/><polygon points="211.96,367.8 212.73,369.85 214.91,369.95 213.2,371.31 213.78,373.41 211.96,372.21 210.14,373.41 210.72,371.31 209.01,369.95 211.19,369.85" fill="#fff" stroke="#1c1c1c" stroke-width="0.8" stroke-linejoin="miter"/><polygon points="215.04,369.61 215.81,371.66 217.99,371.75 216.28,373.11 216.86,375.22 215.04,374.01 213.22,375.22 213.8,373.11 212.09,371.75 214.27,371.66" fill="#fff" stroke="#1c1c1c" stroke-width="0.8" stroke-linejoin="miter"/><polygon points="218.12,370.8 218.89,372.85 221.07,372.94 219.36,374.3 219.94,376.41 218.12,375.2 216.3,376.41 216.88,374.3 215.17,372.94 217.35,372.85" fill="#fff" stroke="#1c1c1c" stroke-width="0.8" stroke-linejoin="miter"/><polygon points="221.2,371.83 221.97,373.88 224.15,373.98 222.44,375.34 223.02,377.44 221.2,376.24 219.38,377.44 219.96,375.34 218.25,373.98 220.43,373.88" fill="#fff" stroke="#1c1c1c" stroke-width="0.8" stroke-linejoin="miter"/><polygon points="224.28,373.34 225.05,375.39 227.23,375.48 225.52,376.84 226.1,378.95 224.28,377.74 222.46,378.95 223.04,376.84 221.33,375.48 223.51,375.39" fill="#fff" stroke="#1c1c1c" stroke-width="0.8" stroke-linejoin="miter"/><polygon points="227.36,375.23 228.13,377.28 230.31,377.37 228.6,378.73 229.18,380.84 227.36,379.63 225.54,380.84 226.12,378.73 224.41,377.37 226.59,377.28" fill="#fff" stroke="#1c1c1c" stroke-width="0.8" stroke-linejoin="miter"/><polygon points="230.44,377.49 231.21,379.53 233.39,379.63 231.68,380.99 232.26,383.1 230.44,381.89 228.62,383.1 229.2,380.99 227.49,379.63 229.67,379.53" fill="#fff" stroke="#1c1c1c" stroke-width="0.8" stroke-linejoin="miter"/><polygon points="233.52,380.31 234.29,382.36 236.47,382.45 234.76,383.81 235.34,385.92 233.52,384.71 231.7,385.92 232.28,383.81 230.57,382.45 232.75,382.36" fill="#fff" stroke="#1c1c1c" stroke-width="0.8" stroke-linejoin="miter"/><polygon points="236.6,384.4 237.37,386.45 239.55,386.54 237.84,387.9 238.42,390.01 236.6,388.8 234.78,390.01 235.36,387.9 233.65,386.54 235.83,386.45" fill="#fff" stroke="#1c1c1c" stroke-width="0.8" stroke-linejoin="miter"/><polygon points="239.68,390.88 240.45,392.92 242.63,393.02 240.92,394.38 241.5,396.49 239.68,395.28 237.86,396.49 238.44,394.38 236.73,393.02 238.91,392.92" fill="#fff" stroke="#1c1c1c" stroke-width="0.8" stroke-linejoin="miter"/><polygon points="242.76,397.05 243.53,399.1 245.71,399.2 244,400.56 244.58,402.66 242.76,401.46 240.94,402.66 241.52,400.56 239.81,399.2 241.99,399.1" fill="#fff" stroke="#1c1c1c" stroke-width="0.8" stroke-linejoin="miter"/><polygon points="245.84,403.16 246.61,405.2 248.79,405.3 247.08,406.66 247.66,408.76 245.84,407.56 244.02,408.76 244.6,406.66 242.89,405.3 245.07,405.2" fill="#fff" stroke="#1c1c1c" stroke-width="0.8" stroke-linejoin="miter"/><polygon points="248.92,408.77 249.69,410.81 251.87,410.91 250.16,412.27 250.74,414.37 248.92,413.17 247.1,414.37 247.68,412.27 245.97,410.91 248.15,410.81" fill="#fff" stroke="#1c1c1c" stroke-width="0.8" stroke-linejoin="miter"/><polygon points="252,413.44 252.77,415.48 254.95,415.58 253.24,416.94 253.82,419.05 252,417.84 250.18,419.05 250.76,416.94 249.05,415.58 251.23,415.48" fill="#fff" stroke="#1c1c1c" stroke-width="0.8" stroke-linejoin="miter"/><polygon points="255.08,416.87 255.85,418.91 258.03,419.01 256.32,420.37 256.9,422.47 255.08,421.27 253.26,422.47 253.84,420.37 252.13,419.01 254.31,418.91" fill="#fff" stroke="#1c1c1c" stroke-width="0.8" stroke-linejoin="miter"/><polygon points="258.16,418.81 258.93,420.86 261.11,420.95 259.4,422.31 259.98,424.42 258.16,423.21 256.34,424.42 256.92,422.31 255.21,420.95 257.39,420.86" fill="#fff" stroke="#1c1c1c" stroke-width="0.8" stroke-linejoin="miter"/><polygon points="261.24,420.26 262.01,422.31 264.19,422.4 262.48,423.76 263.06,425.87 261.24,424.66 259.42,425.87 260,423.76 258.29,422.4 260.47,422.31" fill="#fff" stroke="#1c1c1c" stroke-width="0.8" stroke-linejoin="miter"/><polygon points="264.32,421.32 265.09,423.37 267.27,423.46 265.56,424.82 266.14,426.93 264.32,425.72 262.5,426.93 263.08,424.82 261.37,423.46 263.55,423.37" fill="#fff" stroke="#1c1c1c" stroke-width="0.8" stroke-linejoin="miter"/><polygon points="267.4,422.79 268.17,424.84 270.35,424.93 268.64,426.29 269.22,428.4 267.4,427.19 265.58,428.4 266.16,426.29 264.45,424.93 266.63,424.84" fill="#fff" stroke="#1c1c1c" stroke-width="0.8" stroke-linejoin="miter"/><polygon points="270.48,426.67 271.25,428.72 273.43,428.81 271.72,430.17 272.3,432.28 270.48,431.07 268.66,432.28 269.24,430.17 267.53,428.81 269.71,428.72" fill="#fff" stroke="#1c1c1c" stroke-width="0.8" stroke-linejoin="miter"/><polygon points="273.56,432.11 274.33,434.16 276.51,434.25 274.8,435.61 275.38,437.72 273.56,436.51 271.74,437.72 272.32,435.61 270.61,434.25 272.79,434.16" fill="#fff" stroke="#1c1c1c" stroke-width="0.8" stroke-linejoin="miter"/><polygon points="276.64,438.65 277.41,440.69 279.59,440.79 277.88,442.15 278.46,444.26 276.64,443.05 274.82,444.26 275.4,442.15 273.69,440.79 275.87,440.69" fill="#fff" stroke="#1c1c1c" stroke-width="0.8" stroke-linejoin="miter"/><polygon points="279.72,447.68 280.49,449.73 282.67,449.82 280.96,451.18 281.54,453.29 279.72,452.08 277.9,453.29 278.48,451.18 276.77,449.82 278.95,449.73" fill="#fff" stroke="#1c1c1c" stroke-width="0.8" stroke-linejoin="miter"/><polygon points="282.8,455.77 283.57,457.82 285.75,457.92 284.04,459.28 284.62,461.38 282.8,460.18 280.98,461.38 281.56,459.28 279.85,457.92 282.03,457.82" fill="#fff" stroke="#1c1c1c" stroke-width="0.8" stroke-linejoin="miter"/><polygon points="285.88,463.25 286.65,465.3 288.83,465.4 287.12,466.76 287.7,468.86 285.88,467.65 284.06,468.86 284.64,466.76 282.93,465.4 285.11,465.3" fill="#fff" stroke="#1c1c1c" stroke-width="0.8" stroke-linejoin="miter"/><polygon points="288.96,470.68 289.73,472.73 291.91,472.83 290.2,474.19 290.78,476.29 288.96,475.09 287.14,476.29 287.72,474.19 286.01,472.83 288.19,472.73" fill="#fff" stroke="#1c1c1c" stroke-width="0.8" stroke-linejoin="miter"/><polygon points="292.04,476.74 292.81,478.79 294.99,478.89 293.28,480.25 293.86,482.35 292.04,481.15 290.22,482.35 290.8,480.25 289.09,478.89 291.27,478.79" fill="#fff" stroke="#1c1c1c" stroke-width="0.8" stroke-linejoin="miter"/><polygon points="295.12,480.93 295.89,482.97 298.07,483.07 296.36,484.43 296.94,486.53 295.12,485.33 293.3,486.53 293.88,484.43 292.17,483.07 294.35,482.97" fill="#fff" stroke="#1c1c1c" stroke-width="0.8" stroke-linejoin="miter"/><polygon points="298.2,484.62 298.97,486.66 301.15,486.76 299.44,488.12 300.02,490.23 298.2,489.02 296.38,490.23 296.96,488.12 295.25,486.76 297.43,486.66" fill="#fff" stroke="#1c1c1c" stroke-width="0.8" stroke-linejoin="miter"/><polygon points="301.28,487.42 302.05,489.47 304.23,489.56 302.52,490.92 303.1,493.03 301.28,491.82 299.46,493.03 300.04,490.92 298.33,489.56 300.51,489.47" fill="#fff" stroke="#1c1c1c" stroke-width="0.8" stroke-linejoin="miter"/><polygon points="304.36,489.15 305.13,491.2 307.31,491.29 305.6,492.65 306.18,494.76 304.36,493.55 302.54,494.76 303.12,492.65 301.41,491.29 303.59,491.2" fill="#fff" stroke="#1c1c1c" stroke-width="0.8" stroke-linejoin="miter"/><polygon points="307.44,490.17 308.21,492.22 310.39,492.32 308.68,493.68 309.26,495.78 307.44,494.58 305.62,495.78 306.2,493.68 304.49,492.32 306.67,492.22" fill="#fff" stroke="#1c1c1c" stroke-width="0.8" stroke-linejoin="miter"/><polygon points="310.52,490.94 311.29,492.99 313.47,493.08 311.76,494.44 312.34,496.55 310.52,495.34 308.7,496.55 309.28,494.44 307.57,493.08 309.75,492.99" fill="#fff" stroke="#1c1c1c" stroke-width="0.8" stroke-linejoin="miter"/><polygon points="313.6,491.55 314.37,493.6 316.55,493.69 314.84,495.05 315.42,497.16 313.6,495.95 311.78,497.16 312.36,495.05 310.65,493.69 312.83,493.6" fill="#fff" stroke="#1c1c1c" stroke-width="0.8" stroke-linejoin="miter"/><polygon points="316.68,491.98 317.45,494.03 319.63,494.12 317.92,495.48 318.5,497.59 316.68,496.38 314.86,497.59 315.44,495.48 313.73,494.12 315.91,494.03" fill="#fff" stroke="#1c1c1c" stroke-width="0.8" stroke-linejoin="miter"/><polygon points="319.76,492.23 320.53,494.28 322.71,494.37 321,495.73 321.58,497.84 319.76,496.63 317.94,497.84 318.52,495.73 316.81,494.37 318.99,494.28" fill="#fff" stroke="#1c1c1c" stroke-width="0.8" stroke-linejoin="miter"/><polygon points="322.84,492.43 323.61,494.48 325.79,494.57 324.08,495.93 324.66,498.04 322.84,496.83 321.02,498.04 321.6,495.93 319.89,494.57 322.07,494.48" fill="#fff" stroke="#1c1c1c" stroke-width="0.8" stroke-linejoin="miter"/><polygon points="325.92,492.61 326.69,494.66 328.87,494.75 327.16,496.11 327.74,498.22 325.92,497.01 324.1,498.22 324.68,496.11 322.97,494.75 325.15,494.66" fill="#fff" stroke="#1c1c1c" stroke-width="0.8" stroke-linejoin="miter"/><polygon points="329,492.77 329.77,494.81 331.95,494.91 330.24,496.27 330.82,498.37 329,497.17 327.18,498.37 327.76,496.27 326.05,494.91 328.23,494.81" fill="#fff" stroke="#1c1c1c" stroke-width="0.8" stroke-linejoin="miter"/><polygon points="332.08,492.9 332.85,494.95 335.03,495.04 333.32,496.4 333.9,498.51 332.08,497.3 330.26,498.51 330.84,496.4 329.13,495.04 331.31,494.95" fill="#fff" stroke="#1c1c1c" stroke-width="0.8" stroke-linejoin="miter"/><polygon points="335.16,493.01 335.93,495.05 338.11,495.15 336.4,496.51 336.98,498.61 335.16,497.41 333.34,498.61 333.92,496.51 332.21,495.15 334.39,495.05" fill="#fff" stroke="#1c1c1c" stroke-width="0.8" stroke-linejoin="miter"/><polygon points="338.24,493.09 339.01,495.13 341.19,495.23 339.48,496.59 340.06,498.69 338.24,497.49 336.42,498.69 337,496.59 335.29,495.23 337.47,495.13" fill="#fff" stroke="#1c1c1c" stroke-width="0.8" stroke-linejoin="miter"/><polygon points="341.32,493.13 342.09,495.18 344.27,495.28 342.56,496.64 343.14,498.74 341.32,497.54 339.5,498.74 340.08,496.64 338.37,495.28 340.55,495.18" fill="#fff" stroke="#1c1c1c" stroke-width="0.8" stroke-linejoin="miter"/><polygon points="344.4,493.15 345.17,495.2 347.35,495.29 345.64,496.65 346.22,498.76 344.4,497.55 342.58,498.76 343.16,496.65 341.45,495.29 343.63,495.2" fill="#fff" stroke="#1c1c1c" stroke-width="0.8" stroke-linejoin="miter"/></g>
<rect x="36.5" y="277.6" width="307.4" height="218.8" fill="none" stroke="#303030" stroke-width="0.72"/>
<path d="M55.71 496.4v-2.3M55.71 277.6v2.3M94.14 496.4v-2.3M94.14 277.6v2.3M132.56 496.4v-2.3M132.56 277.6v2.3M170.99 496.4v-2.3M170.99 277.6v2.3M209.41 496.4v-2.3M209.41 277.6v2.3M247.84 496.4v-2.3M247.84 277.6v2.3M286.26 496.4v-2.3M286.26 277.6v2.3M324.69 496.4v-2.3M324.69 277.6v2.3M36.5 496.4v-4.2M36.5 277.6v4.2M74.92 496.4v-4.2M74.92 277.6v4.2M113.35 496.4v-4.2M113.35 277.6v4.2M151.77 496.4v-4.2M151.77 277.6v4.2M190.2 496.4v-4.2M190.2 277.6v4.2M228.62 496.4v-4.2M228.62 277.6v4.2M267.05 496.4v-4.2M267.05 277.6v4.2M305.47 496.4v-4.2M305.47 277.6v4.2M343.9 496.4v-4.2M343.9 277.6v4.2M36.5 476.46h2.3M343.9 476.46h-2.3M36.5 436.57h2.3M343.9 436.57h-2.3M36.5 396.68h2.3M343.9 396.68h-2.3M36.5 356.8h2.3M343.9 356.8h-2.3M36.5 316.91h2.3M343.9 316.91h-2.3M36.5 496.4h4.2M343.9 496.4h-4.2M36.5 456.51h4.2M343.9 456.51h-4.2M36.5 416.63h4.2M343.9 416.63h-4.2M36.5 376.74h4.2M343.9 376.74h-4.2M36.5 336.85h4.2M343.9 336.85h-4.2M36.5 296.97h4.2M343.9 296.97h-4.2" stroke="#303030" stroke-width="0.65" fill="none"/>
<g font-size="8.6" fill="#2a2a2a" letter-spacing="0.2" stroke="#2a2a2a" stroke-width="0.15">
<text x="36.4" y="508.79" text-anchor="middle">300</text>
<text x="74.83" y="508.79" text-anchor="middle">350</text>
<text x="113.25" y="508.79" text-anchor="middle">400</text>
<text x="151.67" y="508.79" text-anchor="middle">450</text>
<text x="190.1" y="508.79" text-anchor="middle">500</text>
<text x="228.53" y="508.79" text-anchor="middle">550</text>
<text x="266.95" y="508.79" text-anchor="middle">600</text>
<text x="305.37" y="508.79" text-anchor="middle">650</text>
<text x="343.8" y="508.79" text-anchor="middle">700</text>
<text x="31.8" y="499.49" text-anchor="end">0.0</text>
<text x="31.8" y="459.6" text-anchor="end">0.2</text>
<text x="31.8" y="419.71" text-anchor="end">0.4</text>
<text x="31.8" y="379.83" text-anchor="end">0.6</text>
<text x="31.8" y="339.94" text-anchor="end">0.8</text>
<text x="31.8" y="300.05" text-anchor="end">1.0</text>
</g>
<rect x="221.3" y="282.8" width="116.6" height="38.9" fill="#fff" stroke="#1c1c1c" stroke-width="0.8"/>
<path d="M222.8 288.6H241.6" stroke="#1c1c1c" stroke-width="0.7"/>
<rect x="230.1" y="286.5" width="4.2" height="4.2" fill="#1c1c1c" stroke="#1c1c1c" stroke-width="0.5"/>
<g font-size="7.7" fill="#2a2a2a" stroke="#2a2a2a" stroke-width="0.14">
<text x="254.6" y="291.17" text-anchor="end">0</text>
<text x="258" y="291.17" text-anchor="start" letter-spacing="-0.1">wt%</text>
<text x="275" y="291.17" text-anchor="start" textLength="11.2" lengthAdjust="spacing">EG</text>
<text x="289.3" y="291.17" text-anchor="start">&amp;</text>
<text x="297.3" y="291.17" text-anchor="start">with</text>
<text x="313.5" y="291.17" text-anchor="start" textLength="22.2" lengthAdjust="spacing">PCBM</text>
</g>
<path d="M222.8 298.3H241.6" stroke="#1c1c1c" stroke-width="0.7"/>
<circle cx="232.2" cy="298.3" r="2.3" fill="#fff" stroke="#1c1c1c" stroke-width="0.7"/>
<g font-size="7.7" fill="#2a2a2a" stroke="#2a2a2a" stroke-width="0.14">
<text x="254.6" y="300.87" text-anchor="end">0.5</text>
<text x="258" y="300.87" text-anchor="start" letter-spacing="-0.1">wt%</text>
<text x="275" y="300.87" text-anchor="start" textLength="11.2" lengthAdjust="spacing">EG</text>
<text x="289.3" y="300.87" text-anchor="start">&amp;</text>
<text x="297.3" y="300.87" text-anchor="start">with</text>
<text x="313.5" y="300.87" text-anchor="start" textLength="22.2" lengthAdjust="spacing">PCBM</text>
</g>
<path d="M222.8 308H241.6" stroke="#1c1c1c" stroke-width="0.7"/>
<polygon points="232.2,305.38 229.12,310.62 235.28,310.62" fill="#1c1c1c" stroke="#1c1c1c" stroke-width="0.4"/>
<g font-size="7.7" fill="#2a2a2a" stroke="#2a2a2a" stroke-width="0.14">
<text x="254.6" y="310.57" text-anchor="end">1.0</text>
<text x="258" y="310.57" text-anchor="start" letter-spacing="-0.1">wt%</text>
<text x="275" y="310.57" text-anchor="start" textLength="11.2" lengthAdjust="spacing">EG</text>
<text x="289.3" y="310.57" text-anchor="start">&amp;</text>
<text x="297.3" y="310.57" text-anchor="start">with</text>
<text x="313.5" y="310.57" text-anchor="start" textLength="22.2" lengthAdjust="spacing">PCBM</text>
</g>
<path d="M222.8 317.8H241.6" stroke="#1c1c1c" stroke-width="0.7"/>
<polygon points="232.2,314.95 232.97,317 235.15,317.09 233.44,318.45 234.02,320.56 232.2,319.35 230.38,320.56 230.96,318.45 229.25,317.09 231.43,317" fill="#fff" stroke="#1c1c1c" stroke-width="0.6" stroke-linejoin="miter"/>
<g font-size="7.7" fill="#2a2a2a" stroke="#2a2a2a" stroke-width="0.14">
<text x="254.6" y="320.37" text-anchor="end">2.0</text>
<text x="258" y="320.37" text-anchor="start" letter-spacing="-0.1">wt%</text>
<text x="275" y="320.37" text-anchor="start" textLength="11.2" lengthAdjust="spacing">EG</text>
<text x="289.3" y="320.37" text-anchor="start">&amp;</text>
<text x="297.3" y="320.37" text-anchor="start">with</text>
<text x="313.5" y="320.37" text-anchor="start" textLength="22.2" lengthAdjust="spacing">PCBM</text>
</g>
<text x="50.4" y="305.1" font-size="14.4" letter-spacing="0.6" fill="#2a2a2a">(b)</text>
<text x="142.1" y="525.7" font-size="11.2" textLength="82.9" fill="#2a2a2a">Wavelength(nm)</text>
<text transform="translate(8.8 391) rotate(-90)" font-size="11.1" fill="#2a2a2a" text-anchor="middle">Absorbance</text>
<clipPath id="clip3"><rect x="37.6" y="550.1" width="306.3" height="209.8"/></clipPath>
<g clip-path="url(#clip3)"><polyline points="37.7,562.98 45.36,561.93 53.02,564.87 60.68,571.36 68.34,573.66 76,578.9 83.66,586.44 91.32,592.1 98.98,598.38 106.64,602.99 114.3,605.09 121.96,604.04 129.62,600.48 137.28,596.5 144.94,592.1 152.6,587.91 160.26,583.09 167.92,578.48 175.58,575.97 183.24,575.13 190.9,575.97 198.56,578.48 206.22,581.42 213.88,585.82 221.54,589.38 229.2,593.99 236.86,602.99 244.52,614.94 252.18,625.83 259.84,631.49 267.5,634.21 275.16,645.73 282.82,676.95 290.48,710.47 298.14,738.33 305.8,750.9 313.46,757.19 321.12,758.86 328.78,759.49 336.44,759.7 344.1,759.7" fill="none" stroke="#1c1c1c" stroke-width="0.7"/><rect x="58.58" y="569.26" width="4.2" height="4.2" fill="#1c1c1c" stroke="#1c1c1c" stroke-width="0.5"/><rect x="66.24" y="571.56" width="4.2" height="4.2" fill="#1c1c1c" stroke="#1c1c1c" stroke-width="0.5"/><rect x="73.9" y="576.8" width="4.2" height="4.2" fill="#1c1c1c" stroke="#1c1c1c" stroke-width="0.5"/><rect x="81.56" y="584.34" width="4.2" height="4.2" fill="#1c1c1c" stroke="#1c1c1c" stroke-width="0.5"/><rect x="89.22" y="590" width="4.2" height="4.2" fill="#1c1c1c" stroke="#1c1c1c" stroke-width="0.5"/><rect x="96.88" y="596.28" width="4.2" height="4.2" fill="#1c1c1c" stroke="#1c1c1c" stroke-width="0.5"/><rect x="104.54" y="600.89" width="4.2" height="4.2" fill="#1c1c1c" stroke="#1c1c1c" stroke-width="0.5"/><rect x="112.2" y="602.99" width="4.2" height="4.2" fill="#1c1c1c" stroke="#1c1c1c" stroke-width="0.5"/><rect x="119.86" y="601.94" width="4.2" height="4.2" fill="#1c1c1c" stroke="#1c1c1c" stroke-width="0.5"/><rect x="127.52" y="598.38" width="4.2" height="4.2" fill="#1c1c1c" stroke="#1c1c1c" stroke-width="0.5"/><rect x="135.18" y="594.4" width="4.2" height="4.2" fill="#1c1c1c" stroke="#1c1c1c" stroke-width="0.5"/><rect x="142.84" y="590" width="4.2" height="4.2" fill="#1c1c1c" stroke="#1c1c1c" stroke-width="0.5"/><rect x="150.5" y="585.81" width="4.2" height="4.2" fill="#1c1c1c" stroke="#1c1c1c" stroke-width="0.5"/><rect x="158.16" y="580.99" width="4.2" height="4.2" fill="#1c1c1c" stroke="#1c1c1c" stroke-width="0.5"/><rect x="165.82" y="576.38" width="4.2" height="4.2" fill="#1c1c1c" stroke="#1c1c1c" stroke-width="0.5"/><rect x="173.48" y="573.87" width="4.2" height="4.2" fill="#1c1c1c" stroke="#1c1c1c" stroke-width="0.5"/><rect x="181.14" y="573.03" width="4.2" height="4.2" fill="#1c1c1c" stroke="#1c1c1c" stroke-width="0.5"/><rect x="188.8" y="573.87" width="4.2" height="4.2" fill="#1c1c1c" stroke="#1c1c1c" stroke-width="0.5"/><rect x="196.46" y="576.38" width="4.2" height="4.2" fill="#1c1c1c" stroke="#1c1c1c" stroke-width="0.5"/><rect x="204.12" y="579.32" width="4.2" height="4.2" fill="#1c1c1c" stroke="#1c1c1c" stroke-width="0.5"/><rect x="211.78" y="583.72" width="4.2" height="4.2" fill="#1c1c1c" stroke="#1c1c1c" stroke-width="0.5"/><rect x="219.44" y="587.28" width="4.2" height="4.2" fill="#1c1c1c" stroke="#1c1c1c" stroke-width="0.5"/><rect x="227.1" y="591.89" width="4.2" height="4.2" fill="#1c1c1c" stroke="#1c1c1c" stroke-width="0.5"/><rect x="234.76" y="600.89" width="4.2" height="4.2" fill="#1c1c1c" stroke="#1c1c1c" stroke-width="0.5"/><rect x="242.42" y="612.84" width="4.2" height="4.2" fill="#1c1c1c" stroke="#1c1c1c" stroke-width="0.5"/><rect x="250.08" y="623.73" width="4.2" height="4.2" fill="#1c1c1c" stroke="#1c1c1c" stroke-width="0.5"/><rect x="257.74" y="629.39" width="4.2" height="4.2" fill="#1c1c1c" stroke="#1c1c1c" stroke-width="0.5"/><rect x="265.4" y="632.11" width="4.2" height="4.2" fill="#1c1c1c" stroke="#1c1c1c" stroke-width="0.5"/><rect x="273.06" y="643.63" width="4.2" height="4.2" fill="#1c1c1c" stroke="#1c1c1c" stroke-width="0.5"/><rect x="280.72" y="674.85" width="4.2" height="4.2" fill="#1c1c1c" stroke="#1c1c1c" stroke-width="0.5"/><rect x="288.38" y="708.37" width="4.2" height="4.2" fill="#1c1c1c" stroke="#1c1c1c" stroke-width="0.5"/><rect x="296.04" y="736.23" width="4.2" height="4.2" fill="#1c1c1c" stroke="#1c1c1c" stroke-width="0.5"/><rect x="303.7" y="748.8" width="4.2" height="4.2" fill="#1c1c1c" stroke="#1c1c1c" stroke-width="0.5"/><rect x="311.36" y="755.09" width="4.2" height="4.2" fill="#1c1c1c" stroke="#1c1c1c" stroke-width="0.5"/><rect x="319.02" y="756.76" width="4.2" height="4.2" fill="#1c1c1c" stroke="#1c1c1c" stroke-width="0.5"/><rect x="326.68" y="757.39" width="4.2" height="4.2" fill="#1c1c1c" stroke="#1c1c1c" stroke-width="0.5"/><rect x="334.34" y="757.6" width="4.2" height="4.2" fill="#1c1c1c" stroke="#1c1c1c" stroke-width="0.5"/><rect x="342" y="757.6" width="4.2" height="4.2" fill="#1c1c1c" stroke="#1c1c1c" stroke-width="0.5"/></g>
<g clip-path="url(#clip3)"><polyline points="37.7,562.98 45.36,561.93 53.02,565.07 60.68,574.08 68.34,580.37 76,585.82 83.66,594.2 91.32,602.99 98.98,610.54 106.64,616.19 114.3,618.71 121.96,617.87 129.62,614.73 137.28,609.91 144.94,605.09 152.6,600.69 160.26,595.03 167.92,589.17 175.58,585.82 183.24,583.51 190.9,583.51 198.56,584.98 206.22,587.7 213.88,591.47 221.54,595.03 229.2,597.97 236.86,605.93 244.52,618.08 252.18,628.55 259.84,635.68 267.5,639.03 275.16,653.9 282.82,681.35 290.48,712.98 298.14,738.33 305.8,751.32 313.46,757.19 321.12,759.07 328.78,759.7 336.44,759.7 344.1,759.7" fill="none" stroke="#1c1c1c" stroke-width="0.7"/><circle cx="60.68" cy="574.08" r="2.25" fill="#fff" stroke="#1c1c1c" stroke-width="0.8"/><circle cx="68.34" cy="580.37" r="2.25" fill="#fff" stroke="#1c1c1c" stroke-width="0.8"/><circle cx="76" cy="585.82" r="2.25" fill="#fff" stroke="#1c1c1c" stroke-width="0.8"/><circle cx="83.66" cy="594.2" r="2.25" fill="#fff" stroke="#1c1c1c" stroke-width="0.8"/><circle cx="91.32" cy="602.99" r="2.25" fill="#fff" stroke="#1c1c1c" stroke-width="0.8"/><circle cx="98.98" cy="610.54" r="2.25" fill="#fff" stroke="#1c1c1c" stroke-width="0.8"/><circle cx="106.64" cy="616.19" r="2.25" fill="#fff" stroke="#1c1c1c" stroke-width="0.8"/><circle cx="114.3" cy="618.71" r="2.25" fill="#fff" stroke="#1c1c1c" stroke-width="0.8"/><circle cx="121.96" cy="617.87" r="2.25" fill="#fff" stroke="#1c1c1c" stroke-width="0.8"/><circle cx="129.62" cy="614.73" r="2.25" fill="#fff" stroke="#1c1c1c" stroke-width="0.8"/><circle cx="137.28" cy="609.91" r="2.25" fill="#fff" stroke="#1c1c1c" stroke-width="0.8"/><circle cx="144.94" cy="605.09" r="2.25" fill="#fff" stroke="#1c1c1c" stroke-width="0.8"/><circle cx="152.6" cy="600.69" r="2.25" fill="#fff" stroke="#1c1c1c" stroke-width="0.8"/><circle cx="160.26" cy="595.03" r="2.25" fill="#fff" stroke="#1c1c1c" stroke-width="0.8"/><circle cx="167.92" cy="589.17" r="2.25" fill="#fff" stroke="#1c1c1c" stroke-width="0.8"/><circle cx="175.58" cy="585.82" r="2.25" fill="#fff" stroke="#1c1c1c" stroke-width="0.8"/><circle cx="183.24" cy="583.51" r="2.25" fill="#fff" stroke="#1c1c1c" stroke-width="0.8"/><circle cx="190.9" cy="583.51" r="2.25" fill="#fff" stroke="#1c1c1c" stroke-width="0.8"/><circle cx="198.56" cy="584.98" r="2.25" fill="#fff" stroke="#1c1c1c" stroke-width="0.8"/><circle cx="206.22" cy="587.7" r="2.25" fill="#fff" stroke="#1c1c1c" stroke-width="0.8"/><circle cx="213.88" cy="591.47" r="2.25" fill="#fff" stroke="#1c1c1c" stroke-width="0.8"/><circle cx="221.54" cy="595.03" r="2.25" fill="#fff" stroke="#1c1c1c" stroke-width="0.8"/><circle cx="229.2" cy="597.97" r="2.25" fill="#fff" stroke="#1c1c1c" stroke-width="0.8"/><circle cx="236.86" cy="605.93" r="2.25" fill="#fff" stroke="#1c1c1c" stroke-width="0.8"/><circle cx="244.52" cy="618.08" r="2.25" fill="#fff" stroke="#1c1c1c" stroke-width="0.8"/><circle cx="252.18" cy="628.55" r="2.25" fill="#fff" stroke="#1c1c1c" stroke-width="0.8"/><circle cx="259.84" cy="635.68" r="2.25" fill="#fff" stroke="#1c1c1c" stroke-width="0.8"/><circle cx="267.5" cy="639.03" r="2.25" fill="#fff" stroke="#1c1c1c" stroke-width="0.8"/><circle cx="275.16" cy="653.9" r="2.25" fill="#fff" stroke="#1c1c1c" stroke-width="0.8"/><circle cx="282.82" cy="681.35" r="2.25" fill="#fff" stroke="#1c1c1c" stroke-width="0.8"/><circle cx="290.48" cy="712.98" r="2.25" fill="#fff" stroke="#1c1c1c" stroke-width="0.8"/><circle cx="298.14" cy="738.33" r="2.25" fill="#fff" stroke="#1c1c1c" stroke-width="0.8"/><circle cx="305.8" cy="751.32" r="2.25" fill="#fff" stroke="#1c1c1c" stroke-width="0.8"/><circle cx="313.46" cy="757.19" r="2.25" fill="#fff" stroke="#1c1c1c" stroke-width="0.8"/><circle cx="321.12" cy="759.07" r="2.25" fill="#fff" stroke="#1c1c1c" stroke-width="0.8"/><circle cx="328.78" cy="759.7" r="2.25" fill="#fff" stroke="#1c1c1c" stroke-width="0.8"/><circle cx="336.44" cy="759.7" r="2.25" fill="#fff" stroke="#1c1c1c" stroke-width="0.8"/><circle cx="344.1" cy="759.7" r="2.25" fill="#fff" stroke="#1c1c1c" stroke-width="0.8"/></g>
<g clip-path="url(#clip3)"><polyline points="37.7,562.98 45.36,561.93 53.02,565.07 60.68,574.92 68.34,580.37 76,588.75 83.66,598.8 91.32,607.81 98.98,614.94 106.64,619.75 114.3,621.64 121.96,621.01 129.62,618.5 137.28,614.52 144.94,609.7 152.6,606.97 160.26,602.99 167.92,598.8 175.58,595.87 183.24,593.99 190.9,593.15 198.56,593.15 206.22,594.61 213.88,597.13 221.54,599.85 229.2,600.9 236.86,608.02 244.52,619.96 252.18,628.97 259.84,632.95 267.5,633.58 275.16,644.89 282.82,672.55 290.48,706.91 298.14,737.07 305.8,750.06 313.46,757.19 321.12,758.65 328.78,759.28 336.44,759.28 344.1,759.28" fill="none" stroke="#1c1c1c" stroke-width="0.7"/><polygon points="37.7,560.5 34.78,565.46 40.62,565.46" fill="#1c1c1c" stroke="#1c1c1c" stroke-width="0.4"/><polygon points="45.36,559.45 42.44,564.42 48.28,564.42" fill="#1c1c1c" stroke="#1c1c1c" stroke-width="0.4"/><polygon points="53.02,562.59 50.1,567.56 55.94,567.56" fill="#1c1c1c" stroke="#1c1c1c" stroke-width="0.4"/><polygon points="60.68,572.44 57.76,577.41 63.6,577.41" fill="#1c1c1c" stroke="#1c1c1c" stroke-width="0.4"/><polygon points="68.34,577.88 65.42,582.85 71.26,582.85" fill="#1c1c1c" stroke="#1c1c1c" stroke-width="0.4"/><polygon points="76,586.26 73.08,591.23 78.92,591.23" fill="#1c1c1c" stroke="#1c1c1c" stroke-width="0.4"/><polygon points="83.66,596.32 80.74,601.29 86.58,601.29" fill="#1c1c1c" stroke="#1c1c1c" stroke-width="0.4"/><polygon points="91.32,605.33 88.4,610.3 94.24,610.3" fill="#1c1c1c" stroke="#1c1c1c" stroke-width="0.4"/><polygon points="98.98,612.45 96.06,617.42 101.9,617.42" fill="#1c1c1c" stroke="#1c1c1c" stroke-width="0.4"/><polygon points="106.64,617.27 103.72,622.24 109.56,622.24" fill="#1c1c1c" stroke="#1c1c1c" stroke-width="0.4"/><polygon points="114.3,619.16 111.38,624.12 117.22,624.12" fill="#1c1c1c" stroke="#1c1c1c" stroke-width="0.4"/><polygon points="121.96,618.53 119.04,623.5 124.88,623.5" fill="#1c1c1c" stroke="#1c1c1c" stroke-width="0.4"/><polygon points="129.62,616.01 126.7,620.98 132.54,620.98" fill="#1c1c1c" stroke="#1c1c1c" stroke-width="0.4"/><polygon points="137.28,612.03 134.36,617 140.2,617" fill="#1c1c1c" stroke="#1c1c1c" stroke-width="0.4"/><polygon points="144.94,607.21 142.02,612.18 147.86,612.18" fill="#1c1c1c" stroke="#1c1c1c" stroke-width="0.4"/><polygon points="152.6,604.49 149.68,609.46 155.52,609.46" fill="#1c1c1c" stroke="#1c1c1c" stroke-width="0.4"/><polygon points="160.26,600.51 157.34,605.48 163.18,605.48" fill="#1c1c1c" stroke="#1c1c1c" stroke-width="0.4"/><polygon points="167.92,596.32 165,601.29 170.84,601.29" fill="#1c1c1c" stroke="#1c1c1c" stroke-width="0.4"/><polygon points="175.58,593.39 172.66,598.36 178.5,598.36" fill="#1c1c1c" stroke="#1c1c1c" stroke-width="0.4"/><polygon points="183.24,591.5 180.32,596.47 186.16,596.47" fill="#1c1c1c" stroke="#1c1c1c" stroke-width="0.4"/><polygon points="190.9,590.66 187.98,595.63 193.82,595.63" fill="#1c1c1c" stroke="#1c1c1c" stroke-width="0.4"/><polygon points="198.56,590.66 195.64,595.63 201.48,595.63" fill="#1c1c1c" stroke="#1c1c1c" stroke-width="0.4"/><polygon points="206.22,592.13 203.3,597.1 209.14,597.1" fill="#1c1c1c" stroke="#1c1c1c" stroke-width="0.4"/><polygon points="213.88,594.64 210.96,599.61 216.8,599.61" fill="#1c1c1c" stroke="#1c1c1c" stroke-width="0.4"/><polygon points="221.54,597.37 218.62,602.34 224.46,602.34" fill="#1c1c1c" stroke="#1c1c1c" stroke-width="0.4"/><polygon points="229.2,598.41 226.28,603.38 232.12,603.38" fill="#1c1c1c" stroke="#1c1c1c" stroke-width="0.4"/><polygon points="236.86,605.54 233.94,610.51 239.78,610.51" fill="#1c1c1c" stroke="#1c1c1c" stroke-width="0.4"/><polygon points="244.52,617.48 241.6,622.45 247.44,622.45" fill="#1c1c1c" stroke="#1c1c1c" stroke-width="0.4"/><polygon points="252.18,626.49 249.26,631.46 255.1,631.46" fill="#1c1c1c" stroke="#1c1c1c" stroke-width="0.4"/><polygon points="259.84,630.47 256.92,635.44 262.76,635.44" fill="#1c1c1c" stroke="#1c1c1c" stroke-width="0.4"/><polygon points="267.5,631.1 264.58,636.07 270.42,636.07" fill="#1c1c1c" stroke="#1c1c1c" stroke-width="0.4"/><polygon points="275.16,642.41 272.24,647.38 278.08,647.38" fill="#1c1c1c" stroke="#1c1c1c" stroke-width="0.4"/><polygon points="282.82,670.06 279.9,675.03 285.74,675.03" fill="#1c1c1c" stroke="#1c1c1c" stroke-width="0.4"/><polygon points="290.48,704.42 287.56,709.39 293.4,709.39" fill="#1c1c1c" stroke="#1c1c1c" stroke-width="0.4"/><polygon points="298.14,734.59 295.22,739.56 301.06,739.56" fill="#1c1c1c" stroke="#1c1c1c" stroke-width="0.4"/><polygon points="305.8,747.58 302.88,752.55 308.72,752.55" fill="#1c1c1c" stroke="#1c1c1c" stroke-width="0.4"/><polygon points="313.46,754.7 310.54,759.67 316.38,759.67" fill="#1c1c1c" stroke="#1c1c1c" stroke-width="0.4"/><polygon points="321.12,756.17 318.2,761.14 324.04,761.14" fill="#1c1c1c" stroke="#1c1c1c" stroke-width="0.4"/><polygon points="328.78,756.8 325.86,761.77 331.7,761.77" fill="#1c1c1c" stroke="#1c1c1c" stroke-width="0.4"/><polygon points="336.44,756.8 333.52,761.77 339.36,761.77" fill="#1c1c1c" stroke="#1c1c1c" stroke-width="0.4"/><polygon points="344.1,756.8 341.18,761.77 347.02,761.77" fill="#1c1c1c" stroke="#1c1c1c" stroke-width="0.4"/></g>
<g clip-path="url(#clip3)"><polyline points="37.7,562.98 45.36,561.93 53.02,565.07 60.68,575.76 68.34,582.46 76,591.05 83.66,600.69 91.32,609.7 98.98,617.03 106.64,622.06 114.3,623.94 121.96,623.32 129.62,621.43 137.28,618.08 144.94,613.89 152.6,610.54 160.26,607.18 167.92,604.04 175.58,601.95 183.24,600.69 190.9,600.06 198.56,600.69 206.22,601.95 213.88,603.62 221.54,605.09 229.2,605.93 236.86,612 244.52,623.94 252.18,632.95 259.84,637.98 267.5,638.61 275.16,649.92 282.82,676.95 290.48,710.47 298.14,737.91 305.8,750.9 313.46,757.19 321.12,758.86 328.78,759.49 336.44,759.49 344.1,759.49" fill="none" stroke="#1c1c1c" stroke-width="0.7"/><polygon points="37.7,560.13 38.47,562.18 40.65,562.27 38.94,563.63 39.52,565.74 37.7,564.53 35.88,565.74 36.46,563.63 34.75,562.27 36.93,562.18" fill="#fff" stroke="#1c1c1c" stroke-width="0.7" stroke-linejoin="miter"/><polygon points="45.36,559.08 46.13,561.13 48.31,561.22 46.6,562.58 47.18,564.69 45.36,563.48 43.54,564.69 44.12,562.58 42.41,561.22 44.59,561.13" fill="#fff" stroke="#1c1c1c" stroke-width="0.7" stroke-linejoin="miter"/><polygon points="53.02,562.22 53.79,564.27 55.97,564.37 54.26,565.73 54.84,567.83 53.02,566.63 51.2,567.83 51.78,565.73 50.07,564.37 52.25,564.27" fill="#fff" stroke="#1c1c1c" stroke-width="0.7" stroke-linejoin="miter"/><polygon points="60.68,572.91 61.45,574.96 63.63,575.05 61.92,576.41 62.5,578.52 60.68,577.31 58.86,578.52 59.44,576.41 57.73,575.05 59.91,574.96" fill="#fff" stroke="#1c1c1c" stroke-width="0.7" stroke-linejoin="miter"/><polygon points="68.34,579.61 69.11,581.66 71.29,581.76 69.58,583.12 70.16,585.22 68.34,584.02 66.52,585.22 67.1,583.12 65.39,581.76 67.57,581.66" fill="#fff" stroke="#1c1c1c" stroke-width="0.7" stroke-linejoin="miter"/><polygon points="76,588.2 76.77,590.25 78.95,590.34 77.24,591.7 77.82,593.81 76,592.6 74.18,593.81 74.76,591.7 73.05,590.34 75.23,590.25" fill="#fff" stroke="#1c1c1c" stroke-width="0.7" stroke-linejoin="miter"/><polygon points="83.66,597.84 84.43,599.89 86.61,599.98 84.9,601.34 85.48,603.45 83.66,602.24 81.84,603.45 82.42,601.34 80.71,599.98 82.89,599.89" fill="#fff" stroke="#1c1c1c" stroke-width="0.7" stroke-linejoin="miter"/><polygon points="91.32,606.85 92.09,608.89 94.27,608.99 92.56,610.35 93.14,612.46 91.32,611.25 89.5,612.46 90.08,610.35 88.37,608.99 90.55,608.89" fill="#fff" stroke="#1c1c1c" stroke-width="0.7" stroke-linejoin="miter"/><polygon points="98.98,614.18 99.75,616.23 101.93,616.32 100.22,617.68 100.8,619.79 98.98,618.58 97.16,619.79 97.74,617.68 96.03,616.32 98.21,616.23" fill="#fff" stroke="#1c1c1c" stroke-width="0.7" stroke-linejoin="miter"/><polygon points="106.64,619.21 107.41,621.26 109.59,621.35 107.88,622.71 108.46,624.82 106.64,623.61 104.82,624.82 105.4,622.71 103.69,621.35 105.87,621.26" fill="#fff" stroke="#1c1c1c" stroke-width="0.7" stroke-linejoin="miter"/><polygon points="114.3,621.09 115.07,623.14 117.25,623.24 115.54,624.6 116.12,626.7 114.3,625.5 112.48,626.7 113.06,624.6 111.35,623.24 113.53,623.14" fill="#fff" stroke="#1c1c1c" stroke-width="0.7" stroke-linejoin="miter"/><polygon points="121.96,620.47 122.73,622.51 124.91,622.61 123.2,623.97 123.78,626.07 121.96,624.87 120.14,626.07 120.72,623.97 119.01,622.61 121.19,622.51" fill="#fff" stroke="#1c1c1c" stroke-width="0.7" stroke-linejoin="miter"/><polygon points="129.62,618.58 130.39,620.63 132.57,620.72 130.86,622.08 131.44,624.19 129.62,622.98 127.8,624.19 128.38,622.08 126.67,620.72 128.85,620.63" fill="#fff" stroke="#1c1c1c" stroke-width="0.7" stroke-linejoin="miter"/><polygon points="137.28,615.23 138.05,617.27 140.23,617.37 138.52,618.73 139.1,620.84 137.28,619.63 135.46,620.84 136.04,618.73 134.33,617.37 136.51,617.27" fill="#fff" stroke="#1c1c1c" stroke-width="0.7" stroke-linejoin="miter"/><polygon points="144.94,611.04 145.71,613.08 147.89,613.18 146.18,614.54 146.76,616.65 144.94,615.44 143.12,616.65 143.7,614.54 141.99,613.18 144.17,613.08" fill="#fff" stroke="#1c1c1c" stroke-width="0.7" stroke-linejoin="miter"/><polygon points="152.6,607.69 153.37,609.73 155.55,609.83 153.84,611.19 154.42,613.29 152.6,612.09 150.78,613.29 151.36,611.19 149.65,609.83 151.83,609.73" fill="#fff" stroke="#1c1c1c" stroke-width="0.7" stroke-linejoin="miter"/><polygon points="160.26,604.33 161.03,606.38 163.21,606.48 161.5,607.84 162.08,609.94 160.26,608.74 158.44,609.94 159.02,607.84 157.31,606.48 159.49,606.38" fill="#fff" stroke="#1c1c1c" stroke-width="0.7" stroke-linejoin="miter"/><polygon points="167.92,601.19 168.69,603.24 170.87,603.33 169.16,604.69 169.74,606.8 167.92,605.59 166.1,606.8 166.68,604.69 164.97,603.33 167.15,603.24" fill="#fff" stroke="#1c1c1c" stroke-width="0.7" stroke-linejoin="miter"/><polygon points="175.58,599.1 176.35,601.14 178.53,601.24 176.82,602.6 177.4,604.7 175.58,603.5 173.76,604.7 174.34,602.6 172.63,601.24 174.81,601.14" fill="#fff" stroke="#1c1c1c" stroke-width="0.7" stroke-linejoin="miter"/><polygon points="183.24,597.84 184.01,599.89 186.19,599.98 184.48,601.34 185.06,603.45 183.24,602.24 181.42,603.45 182,601.34 180.29,599.98 182.47,599.89" fill="#fff" stroke="#1c1c1c" stroke-width="0.7" stroke-linejoin="miter"/><polygon points="190.9,597.21 191.67,599.26 193.85,599.35 192.14,600.71 192.72,602.82 190.9,601.61 189.08,602.82 189.66,600.71 187.95,599.35 190.13,599.26" fill="#fff" stroke="#1c1c1c" stroke-width="0.7" stroke-linejoin="miter"/><polygon points="198.56,597.84 199.33,599.89 201.51,599.98 199.8,601.34 200.38,603.45 198.56,602.24 196.74,603.45 197.32,601.34 195.61,599.98 197.79,599.89" fill="#fff" stroke="#1c1c1c" stroke-width="0.7" stroke-linejoin="miter"/><polygon points="206.22,599.1 206.99,601.14 209.17,601.24 207.46,602.6 208.04,604.7 206.22,603.5 204.4,604.7 204.98,602.6 203.27,601.24 205.45,601.14" fill="#fff" stroke="#1c1c1c" stroke-width="0.7" stroke-linejoin="miter"/><polygon points="213.88,600.77 214.65,602.82 216.83,602.91 215.12,604.27 215.7,606.38 213.88,605.17 212.06,606.38 212.64,604.27 210.93,602.91 213.11,602.82" fill="#fff" stroke="#1c1c1c" stroke-width="0.7" stroke-linejoin="miter"/><polygon points="221.54,602.24 222.31,604.29 224.49,604.38 222.78,605.74 223.36,607.85 221.54,606.64 219.72,607.85 220.3,605.74 218.59,604.38 220.77,604.29" fill="#fff" stroke="#1c1c1c" stroke-width="0.7" stroke-linejoin="miter"/><polygon points="229.2,603.08 229.97,605.12 232.15,605.22 230.44,606.58 231.02,608.68 229.2,607.48 227.38,608.68 227.96,606.58 226.25,605.22 228.43,605.12" fill="#fff" stroke="#1c1c1c" stroke-width="0.7" stroke-linejoin="miter"/><polygon points="236.86,609.15 237.63,611.2 239.81,611.29 238.1,612.65 238.68,614.76 236.86,613.55 235.04,614.76 235.62,612.65 233.91,611.29 236.09,611.2" fill="#fff" stroke="#1c1c1c" stroke-width="0.7" stroke-linejoin="miter"/><polygon points="244.52,621.09 245.29,623.14 247.47,623.24 245.76,624.6 246.34,626.7 244.52,625.5 242.7,626.7 243.28,624.6 241.57,623.24 243.75,623.14" fill="#fff" stroke="#1c1c1c" stroke-width="0.7" stroke-linejoin="miter"/><polygon points="252.18,630.1 252.95,632.15 255.13,632.24 253.42,633.6 254,635.71 252.18,634.5 250.36,635.71 250.94,633.6 249.23,632.24 251.41,632.15" fill="#fff" stroke="#1c1c1c" stroke-width="0.7" stroke-linejoin="miter"/><polygon points="259.84,635.13 260.61,637.18 262.79,637.27 261.08,638.63 261.66,640.74 259.84,639.53 258.02,640.74 258.6,638.63 256.89,637.27 259.07,637.18" fill="#fff" stroke="#1c1c1c" stroke-width="0.7" stroke-linejoin="miter"/><polygon points="267.5,635.76 268.27,637.81 270.45,637.9 268.74,639.26 269.32,641.37 267.5,640.16 265.68,641.37 266.26,639.26 264.55,637.9 266.73,637.81" fill="#fff" stroke="#1c1c1c" stroke-width="0.7" stroke-linejoin="miter"/><polygon points="275.16,647.07 275.93,649.12 278.11,649.21 276.4,650.57 276.98,652.68 275.16,651.47 273.34,652.68 273.92,650.57 272.21,649.21 274.39,649.12" fill="#fff" stroke="#1c1c1c" stroke-width="0.7" stroke-linejoin="miter"/><polygon points="282.82,674.1 283.59,676.14 285.77,676.24 284.06,677.6 284.64,679.71 282.82,678.5 281,679.71 281.58,677.6 279.87,676.24 282.05,676.14" fill="#fff" stroke="#1c1c1c" stroke-width="0.7" stroke-linejoin="miter"/><polygon points="290.48,707.62 291.25,709.66 293.43,709.76 291.72,711.12 292.3,713.23 290.48,712.02 288.66,713.23 289.24,711.12 287.53,709.76 289.71,709.66" fill="#fff" stroke="#1c1c1c" stroke-width="0.7" stroke-linejoin="miter"/><polygon points="298.14,735.06 298.91,737.11 301.09,737.2 299.38,738.56 299.96,740.67 298.14,739.46 296.32,740.67 296.9,738.56 295.19,737.2 297.37,737.11" fill="#fff" stroke="#1c1c1c" stroke-width="0.7" stroke-linejoin="miter"/><polygon points="305.8,748.05 306.57,750.1 308.75,750.19 307.04,751.55 307.62,753.66 305.8,752.45 303.98,753.66 304.56,751.55 302.85,750.19 305.03,750.1" fill="#fff" stroke="#1c1c1c" stroke-width="0.7" stroke-linejoin="miter"/><polygon points="313.46,754.34 314.23,756.38 316.41,756.48 314.7,757.84 315.28,759.94 313.46,758.74 311.64,759.94 312.22,757.84 310.51,756.48 312.69,756.38" fill="#fff" stroke="#1c1c1c" stroke-width="0.7" stroke-linejoin="miter"/><polygon points="321.12,756.01 321.89,758.06 324.07,758.15 322.36,759.51 322.94,761.62 321.12,760.41 319.3,761.62 319.88,759.51 318.17,758.15 320.35,758.06" fill="#fff" stroke="#1c1c1c" stroke-width="0.7" stroke-linejoin="miter"/><polygon points="328.78,756.64 329.55,758.69 331.73,758.78 330.02,760.14 330.6,762.25 328.78,761.04 326.96,762.25 327.54,760.14 325.83,758.78 328.01,758.69" fill="#fff" stroke="#1c1c1c" stroke-width="0.7" stroke-linejoin="miter"/><polygon points="336.44,756.64 337.21,758.69 339.39,758.78 337.68,760.14 338.26,762.25 336.44,761.04 334.62,762.25 335.2,760.14 333.49,758.78 335.67,758.69" fill="#fff" stroke="#1c1c1c" stroke-width="0.7" stroke-linejoin="miter"/><polygon points="344.1,756.64 344.87,758.69 347.05,758.78 345.34,760.14 345.92,762.25 344.1,761.04 342.28,762.25 342.86,760.14 341.15,758.78 343.33,758.69" fill="#fff" stroke="#1c1c1c" stroke-width="0.7" stroke-linejoin="miter"/></g>
<rect x="37.6" y="550.1" width="306.3" height="209.8" fill="none" stroke="#303030" stroke-width="0.72"/>
<path d="M75.89 759.9v-2.3M75.89 550.1v2.3M152.46 759.9v-2.3M152.46 550.1v2.3M229.04 759.9v-2.3M229.04 550.1v2.3M305.61 759.9v-2.3M305.61 550.1v2.3M37.6 759.9v-4.2M37.6 550.1v4.2M114.17 759.9v-4.2M114.17 550.1v4.2M190.75 759.9v-4.2M190.75 550.1v4.2M267.32 759.9v-4.2M267.32 550.1v4.2M343.9 759.9v-4.2M343.9 550.1v4.2M37.6 738.92h2.3M343.9 738.92h-2.3M37.6 696.96h2.3M343.9 696.96h-2.3M37.6 655h2.3M343.9 655h-2.3M37.6 613.04h2.3M343.9 613.04h-2.3M37.6 571.08h2.3M343.9 571.08h-2.3M37.6 759.9h4.2M343.9 759.9h-4.2M37.6 717.94h4.2M343.9 717.94h-4.2M37.6 675.98h4.2M343.9 675.98h-4.2M37.6 634.02h4.2M343.9 634.02h-4.2M37.6 592.06h4.2M343.9 592.06h-4.2M37.6 550.1h4.2M343.9 550.1h-4.2" stroke="#303030" stroke-width="0.65" fill="none"/>
<g font-size="8.6" fill="#2a2a2a" letter-spacing="0.2" stroke="#2a2a2a" stroke-width="0.15">
<text x="37.5" y="771.49" text-anchor="middle">300</text>
<text x="114.07" y="771.49" text-anchor="middle">400</text>
<text x="190.65" y="771.49" text-anchor="middle">500</text>
<text x="267.22" y="771.49" text-anchor="middle">600</text>
<text x="343.8" y="771.49" text-anchor="middle">700</text>
<text x="32" y="762.69" text-anchor="end">0</text>
<text x="32" y="720.73" text-anchor="end">20</text>
<text x="32" y="678.77" text-anchor="end">40</text>
<text x="32" y="636.81" text-anchor="end">60</text>
<text x="32" y="594.85" text-anchor="end">80</text>
<text x="32" y="552.89" text-anchor="end">100</text>
</g>
<rect x="261.4" y="557.8" width="74.6" height="42.4" fill="#fff" stroke="#1c1c1c" stroke-width="0.8"/>
<path d="M263.5 563.5H284.6" stroke="#1c1c1c" stroke-width="0.7"/>
<rect x="272.1" y="561.3" width="4.4" height="4.4" fill="#1c1c1c" stroke="#1c1c1c" stroke-width="0.5"/>
<g font-size="8.2" fill="#2a2a2a" stroke="#2a2a2a" stroke-width="0.22">
<text x="299.4" y="566.35" text-anchor="end">0</text>
<text x="302.5" y="566.35" text-anchor="start" textLength="15.6" lengthAdjust="spacing">wt%</text>
<text x="322.3" y="566.35" text-anchor="start" textLength="12" lengthAdjust="spacing">EG</text>
</g>
<path d="M263.5 574.2H284.6" stroke="#1c1c1c" stroke-width="0.7"/>
<circle cx="274.3" cy="574.2" r="2.4" fill="#fff" stroke="#1c1c1c" stroke-width="0.7"/>
<g font-size="8.2" fill="#2a2a2a" stroke="#2a2a2a" stroke-width="0.22">
<text x="299.4" y="577.05" text-anchor="end">0.5</text>
<text x="302.5" y="577.05" text-anchor="start" textLength="15.6" lengthAdjust="spacing">wt%</text>
<text x="322.3" y="577.05" text-anchor="start" textLength="12" lengthAdjust="spacing">EG</text>
</g>
<path d="M263.5 585H284.6" stroke="#1c1c1c" stroke-width="0.7"/>
<polygon points="274.3,582.29 271.11,587.71 277.49,587.71" fill="#1c1c1c" stroke="#1c1c1c" stroke-width="0.4"/>
<g font-size="8.2" fill="#2a2a2a" stroke="#2a2a2a" stroke-width="0.22">
<text x="299.4" y="587.85" text-anchor="end">1.0</text>
<text x="302.5" y="587.85" text-anchor="start" textLength="15.6" lengthAdjust="spacing">wt%</text>
<text x="322.3" y="587.85" text-anchor="start" textLength="12" lengthAdjust="spacing">EG</text>
</g>
<path d="M263.5 595.6H284.6" stroke="#1c1c1c" stroke-width="0.7"/>
<polygon points="274.3,592.64 275.1,594.76 277.37,594.86 275.59,596.28 276.2,598.47 274.3,597.21 272.4,598.47 273.01,596.28 271.23,594.86 273.5,594.76" fill="#fff" stroke="#1c1c1c" stroke-width="0.6" stroke-linejoin="miter"/>
<g font-size="8.2" fill="#2a2a2a" stroke="#2a2a2a" stroke-width="0.22">
<text x="299.4" y="598.45" text-anchor="end">2.0</text>
<text x="302.5" y="598.45" text-anchor="start" textLength="15.6" lengthAdjust="spacing">wt%</text>
<text x="322.3" y="598.45" text-anchor="start" textLength="12" lengthAdjust="spacing">EG</text>
</g>
<text x="55.3" y="725" font-size="14.4" letter-spacing="0.5" fill="#2a2a2a">(c)</text>
<text x="149.9" y="788.4" font-size="11.2" textLength="82.3" fill="#2a2a2a">Wavelength(nm)</text>
<text transform="translate(7.1 661.3) rotate(-90)" font-size="10.4" fill="#2a2a2a" text-anchor="middle">Absorption(%)</text>
</svg></body></html>
